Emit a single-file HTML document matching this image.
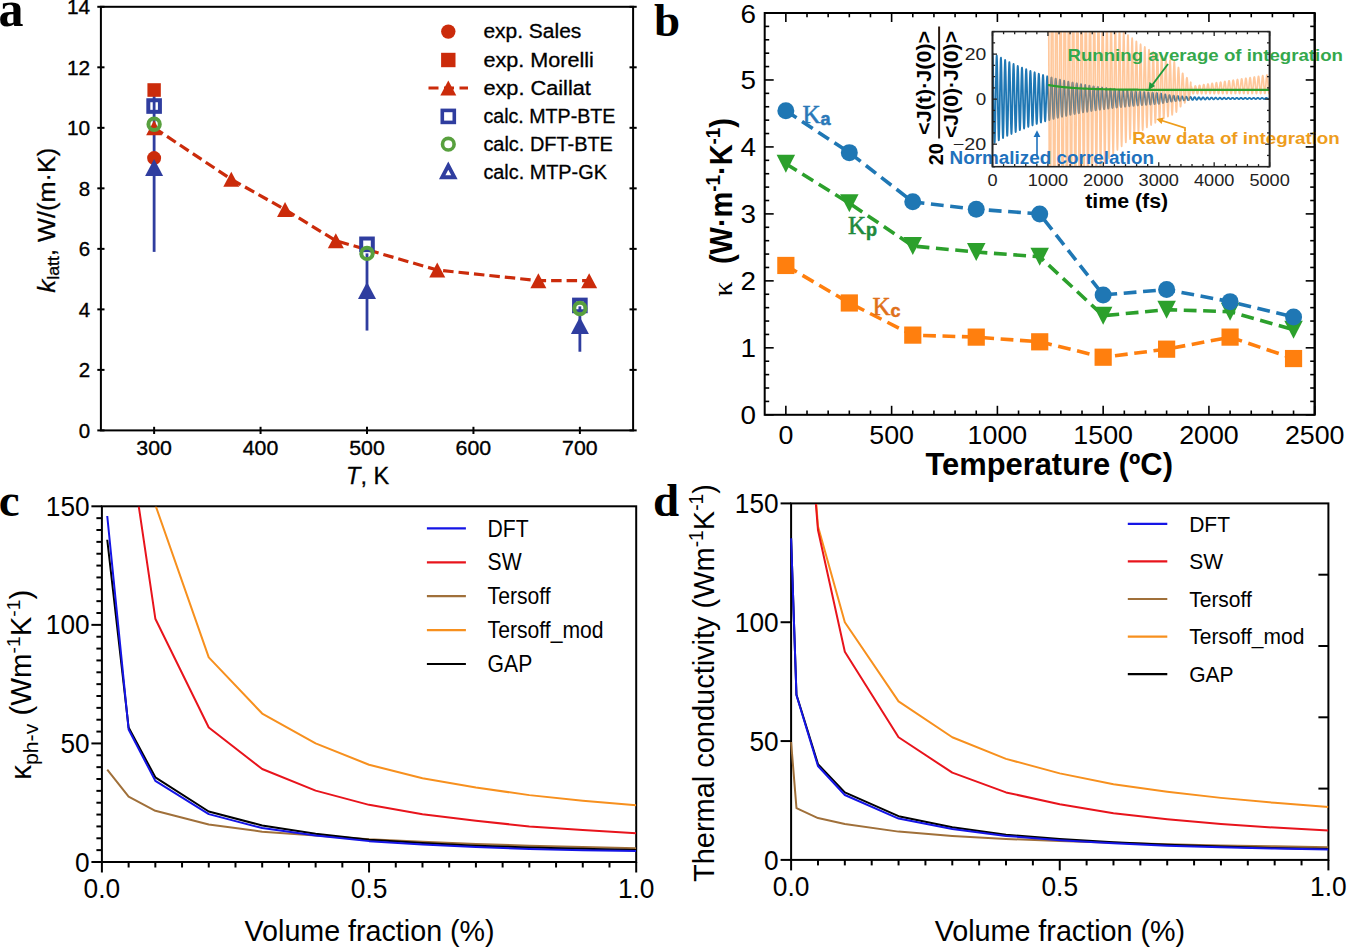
<!DOCTYPE html>
<html><head><meta charset="utf-8"><style>
html,body{margin:0;padding:0;background:#fff;width:1348px;height:949px;overflow:hidden}
svg{display:block}
</style></head><body>
<svg width="1348" height="949" viewBox="0 0 1348 949">
<rect width="1348" height="949" fill="#fff"/>
<rect x="100.9" y="6.8" width="532.2" height="423.59999999999997" fill="none" stroke="#000" stroke-width="2"/>
<line x1="97.30" y1="430.40" x2="104.50" y2="430.40" stroke="#000" stroke-width="2" />
<line x1="629.50" y1="430.40" x2="636.70" y2="430.40" stroke="#000" stroke-width="2" />
<text x="90.20" y="437.80" font-family="Liberation Sans" font-size="20.5" font-weight="normal" font-style="normal" text-anchor="end" fill="#000" textLength="11.4" lengthAdjust="spacingAndGlyphs" stroke="#000" stroke-width="0.35">0</text>
<line x1="97.30" y1="369.89" x2="104.50" y2="369.89" stroke="#000" stroke-width="2" />
<line x1="629.50" y1="369.89" x2="636.70" y2="369.89" stroke="#000" stroke-width="2" />
<text x="90.20" y="377.29" font-family="Liberation Sans" font-size="20.5" font-weight="normal" font-style="normal" text-anchor="end" fill="#000" textLength="11.4" lengthAdjust="spacingAndGlyphs" stroke="#000" stroke-width="0.35">2</text>
<line x1="97.30" y1="309.37" x2="104.50" y2="309.37" stroke="#000" stroke-width="2" />
<line x1="629.50" y1="309.37" x2="636.70" y2="309.37" stroke="#000" stroke-width="2" />
<text x="90.20" y="316.77" font-family="Liberation Sans" font-size="20.5" font-weight="normal" font-style="normal" text-anchor="end" fill="#000" textLength="11.4" lengthAdjust="spacingAndGlyphs" stroke="#000" stroke-width="0.35">4</text>
<line x1="97.30" y1="248.86" x2="104.50" y2="248.86" stroke="#000" stroke-width="2" />
<line x1="629.50" y1="248.86" x2="636.70" y2="248.86" stroke="#000" stroke-width="2" />
<text x="90.20" y="256.26" font-family="Liberation Sans" font-size="20.5" font-weight="normal" font-style="normal" text-anchor="end" fill="#000" textLength="11.4" lengthAdjust="spacingAndGlyphs" stroke="#000" stroke-width="0.35">6</text>
<line x1="97.30" y1="188.34" x2="104.50" y2="188.34" stroke="#000" stroke-width="2" />
<line x1="629.50" y1="188.34" x2="636.70" y2="188.34" stroke="#000" stroke-width="2" />
<text x="90.20" y="195.74" font-family="Liberation Sans" font-size="20.5" font-weight="normal" font-style="normal" text-anchor="end" fill="#000" textLength="11.4" lengthAdjust="spacingAndGlyphs" stroke="#000" stroke-width="0.35">8</text>
<line x1="97.30" y1="127.83" x2="104.50" y2="127.83" stroke="#000" stroke-width="2" />
<line x1="629.50" y1="127.83" x2="636.70" y2="127.83" stroke="#000" stroke-width="2" />
<text x="90.20" y="135.23" font-family="Liberation Sans" font-size="20.5" font-weight="normal" font-style="normal" text-anchor="end" fill="#000" textLength="23.2" lengthAdjust="spacingAndGlyphs" stroke="#000" stroke-width="0.35">10</text>
<line x1="97.30" y1="67.31" x2="104.50" y2="67.31" stroke="#000" stroke-width="2" />
<line x1="629.50" y1="67.31" x2="636.70" y2="67.31" stroke="#000" stroke-width="2" />
<text x="90.20" y="74.71" font-family="Liberation Sans" font-size="20.5" font-weight="normal" font-style="normal" text-anchor="end" fill="#000" textLength="23.2" lengthAdjust="spacingAndGlyphs" stroke="#000" stroke-width="0.35">12</text>
<line x1="97.30" y1="6.80" x2="104.50" y2="6.80" stroke="#000" stroke-width="2" />
<line x1="629.50" y1="6.80" x2="636.70" y2="6.80" stroke="#000" stroke-width="2" />
<text x="90.20" y="14.20" font-family="Liberation Sans" font-size="20.5" font-weight="normal" font-style="normal" text-anchor="end" fill="#000" textLength="23.2" lengthAdjust="spacingAndGlyphs" stroke="#000" stroke-width="0.35">14</text>
<line x1="154.12" y1="426.80" x2="154.12" y2="434.00" stroke="#000" stroke-width="2" />
<text x="154.12" y="455.20" font-family="Liberation Sans" font-size="20.5" font-weight="normal" font-style="normal" text-anchor="middle" fill="#000" textLength="35.6" lengthAdjust="spacingAndGlyphs" stroke="#000" stroke-width="0.35">300</text>
<line x1="260.56" y1="426.80" x2="260.56" y2="434.00" stroke="#000" stroke-width="2" />
<text x="260.56" y="455.20" font-family="Liberation Sans" font-size="20.5" font-weight="normal" font-style="normal" text-anchor="middle" fill="#000" textLength="35.6" lengthAdjust="spacingAndGlyphs" stroke="#000" stroke-width="0.35">400</text>
<line x1="367.00" y1="426.80" x2="367.00" y2="434.00" stroke="#000" stroke-width="2" />
<text x="367.00" y="455.20" font-family="Liberation Sans" font-size="20.5" font-weight="normal" font-style="normal" text-anchor="middle" fill="#000" textLength="35.6" lengthAdjust="spacingAndGlyphs" stroke="#000" stroke-width="0.35">500</text>
<line x1="473.44" y1="426.80" x2="473.44" y2="434.00" stroke="#000" stroke-width="2" />
<text x="473.44" y="455.20" font-family="Liberation Sans" font-size="20.5" font-weight="normal" font-style="normal" text-anchor="middle" fill="#000" textLength="35.6" lengthAdjust="spacingAndGlyphs" stroke="#000" stroke-width="0.35">600</text>
<line x1="579.88" y1="426.80" x2="579.88" y2="434.00" stroke="#000" stroke-width="2" />
<text x="579.88" y="455.20" font-family="Liberation Sans" font-size="20.5" font-weight="normal" font-style="normal" text-anchor="middle" fill="#000" textLength="35.6" lengthAdjust="spacingAndGlyphs" stroke="#000" stroke-width="0.35">700</text>
<text x="367.6" y="484" font-family="Liberation Sans" font-size="23.5" text-anchor="middle" stroke="#000" stroke-width="0.3"><tspan font-style="italic">T</tspan>, K</text>
<text transform="translate(54.5,220.2) rotate(-90)" font-family="Liberation Sans" font-size="23.5" text-anchor="middle" stroke="#000" stroke-width="0.3" textLength="145" lengthAdjust="spacingAndGlyphs"><tspan font-style="italic" font-size="24">k</tspan><tspan font-size="16.5" dy="4.5">latt</tspan><tspan dy="-4.5">, W/(m·K)</tspan></text>
<line x1="154.12" y1="251.88" x2="154.12" y2="88.49" stroke="#2f3d9f" stroke-width="2.8" />
<line x1="367.00" y1="330.55" x2="367.00" y2="253.40" stroke="#2f3d9f" stroke-width="2.8" />
<line x1="579.88" y1="351.73" x2="579.88" y2="306.35" stroke="#2f3d9f" stroke-width="2.8" />
<polyline points="154.12,127.83 231.29,179.27 285.04,209.52 335.81,240.69 437.25,270.04 538.37,280.63 589.14,280.63" fill="none" stroke="#cb2b0b" stroke-width="3.2" stroke-linejoin="round" stroke-dasharray="10.5 5" stroke-linecap="butt"/>
<polygon points="154.12,120.33 146.12,135.33 162.12,135.33" fill="#cb2b0b" stroke="none" stroke-width="0"/>
<polygon points="231.29,171.77 223.29,186.77 239.29,186.77" fill="#cb2b0b" stroke="none" stroke-width="0"/>
<polygon points="285.04,202.02 277.04,217.02 293.04,217.02" fill="#cb2b0b" stroke="none" stroke-width="0"/>
<polygon points="335.81,233.19 327.81,248.19 343.81,248.19" fill="#cb2b0b" stroke="none" stroke-width="0"/>
<polygon points="437.25,262.54 429.25,277.54 445.25,277.54" fill="#cb2b0b" stroke="none" stroke-width="0"/>
<polygon points="538.37,273.13 530.37,288.13 546.37,288.13" fill="#cb2b0b" stroke="none" stroke-width="0"/>
<polygon points="589.14,273.13 581.14,288.13 597.14,288.13" fill="#cb2b0b" stroke="none" stroke-width="0"/>
<circle cx="154.12" cy="158.09" r="7" fill="#cb2b0b"/>
<rect x="147.42" y="83.21" width="13.4" height="13.6" fill="#cb2b0b"/>
<rect x="148.32" y="100.24" width="11.6" height="11.6" fill="none" stroke="#2f3d9f" stroke-width="4"/>
<rect x="361.20" y="238.52" width="11.6" height="11.6" fill="none" stroke="#2f3d9f" stroke-width="4"/>
<rect x="574.08" y="299.64" width="11.6" height="11.6" fill="none" stroke="#2f3d9f" stroke-width="4"/>
<circle cx="154.12" cy="124.20" r="5.7" fill="none" stroke="#58a03e" stroke-width="4"/>
<circle cx="367.00" cy="253.40" r="5.7" fill="none" stroke="#58a03e" stroke-width="4"/>
<circle cx="579.88" cy="308.46" r="5.7" fill="none" stroke="#58a03e" stroke-width="4"/>
<polygon points="154.12,158.97 145.12,175.97 163.12,175.97" fill="#2f3d9f" stroke="none" stroke-width="0"/>
<polygon points="367.00,282.11 358.00,299.11 376.00,299.11" fill="#2f3d9f" stroke="none" stroke-width="0"/>
<polygon points="579.88,316.91 570.88,333.91 588.88,333.91" fill="#2f3d9f" stroke="none" stroke-width="0"/>
<circle cx="448.3" cy="31.6" r="7.2" fill="#cb2b0b"/>
<rect x="441.1" y="52.8" width="14.4" height="14.4" fill="#cb2b0b"/>
<line x1="428.50" y1="88.00" x2="468.00" y2="88.00" stroke="#cb2b0b" stroke-width="3.2" stroke-dasharray="10 5.5"/>
<polygon points="448.30,80.50 440.30,95.50 456.30,95.50" fill="#cb2b0b" stroke="none" stroke-width="0"/>
<rect x="442.3" y="110.4" width="12" height="12" fill="none" stroke="#2f3d9f" stroke-width="3.6"/>
<circle cx="448.3" cy="144.2" r="5.8" fill="none" stroke="#58a03e" stroke-width="3.6"/>
<polygon points="448.30,165.60 442.20,177.20 454.40,177.20" fill="none" stroke="#2f3d9f" stroke-width="3.9"/>
<text x="483.40" y="38.30" font-family="Liberation Sans" font-size="20" font-weight="normal" font-style="normal" text-anchor="start" fill="#000" textLength="97.9" lengthAdjust="spacingAndGlyphs" stroke="#000" stroke-width="0.3">exp. Sales</text>
<text x="483.40" y="66.70" font-family="Liberation Sans" font-size="20" font-weight="normal" font-style="normal" text-anchor="start" fill="#000" textLength="110.5" lengthAdjust="spacingAndGlyphs" stroke="#000" stroke-width="0.3">exp. Morelli</text>
<text x="483.40" y="94.70" font-family="Liberation Sans" font-size="20" font-weight="normal" font-style="normal" text-anchor="start" fill="#000" textLength="107.5" lengthAdjust="spacingAndGlyphs" stroke="#000" stroke-width="0.3">exp. Caillat</text>
<text x="483.40" y="123.10" font-family="Liberation Sans" font-size="20" font-weight="normal" font-style="normal" text-anchor="start" fill="#000" textLength="132" lengthAdjust="spacingAndGlyphs" stroke="#000" stroke-width="0.3">calc. MTP-BTE</text>
<text x="483.40" y="150.90" font-family="Liberation Sans" font-size="20" font-weight="normal" font-style="normal" text-anchor="start" fill="#000" textLength="129.5" lengthAdjust="spacingAndGlyphs" stroke="#000" stroke-width="0.3">calc. DFT-BTE</text>
<text x="483.40" y="178.70" font-family="Liberation Sans" font-size="20" font-weight="normal" font-style="normal" text-anchor="start" fill="#000" textLength="123.5" lengthAdjust="spacingAndGlyphs" stroke="#000" stroke-width="0.3">calc. MTP-GK</text>
<text x="-1.50" y="25.60" font-family="Liberation Serif" font-size="50" font-weight="bold" font-style="normal" text-anchor="start" fill="#000" >a</text>
<rect x="764.7" y="13.0" width="550.0" height="401.8" fill="none" stroke="#000" stroke-width="2"/>
<line x1="764.70" y1="414.80" x2="773.70" y2="414.80" stroke="#000" stroke-width="1.6" />
<line x1="1314.70" y1="414.80" x2="1305.70" y2="414.80" stroke="#000" stroke-width="1.6" />
<line x1="764.70" y1="401.41" x2="769.20" y2="401.41" stroke="#000" stroke-width="1.6" />
<line x1="1314.70" y1="401.41" x2="1310.20" y2="401.41" stroke="#000" stroke-width="1.6" />
<line x1="764.70" y1="388.01" x2="769.20" y2="388.01" stroke="#000" stroke-width="1.6" />
<line x1="1314.70" y1="388.01" x2="1310.20" y2="388.01" stroke="#000" stroke-width="1.6" />
<line x1="764.70" y1="374.62" x2="769.20" y2="374.62" stroke="#000" stroke-width="1.6" />
<line x1="1314.70" y1="374.62" x2="1310.20" y2="374.62" stroke="#000" stroke-width="1.6" />
<line x1="764.70" y1="361.23" x2="769.20" y2="361.23" stroke="#000" stroke-width="1.6" />
<line x1="1314.70" y1="361.23" x2="1310.20" y2="361.23" stroke="#000" stroke-width="1.6" />
<line x1="764.70" y1="347.83" x2="773.70" y2="347.83" stroke="#000" stroke-width="1.6" />
<line x1="1314.70" y1="347.83" x2="1305.70" y2="347.83" stroke="#000" stroke-width="1.6" />
<line x1="764.70" y1="334.44" x2="769.20" y2="334.44" stroke="#000" stroke-width="1.6" />
<line x1="1314.70" y1="334.44" x2="1310.20" y2="334.44" stroke="#000" stroke-width="1.6" />
<line x1="764.70" y1="321.05" x2="769.20" y2="321.05" stroke="#000" stroke-width="1.6" />
<line x1="1314.70" y1="321.05" x2="1310.20" y2="321.05" stroke="#000" stroke-width="1.6" />
<line x1="764.70" y1="307.65" x2="769.20" y2="307.65" stroke="#000" stroke-width="1.6" />
<line x1="1314.70" y1="307.65" x2="1310.20" y2="307.65" stroke="#000" stroke-width="1.6" />
<line x1="764.70" y1="294.26" x2="769.20" y2="294.26" stroke="#000" stroke-width="1.6" />
<line x1="1314.70" y1="294.26" x2="1310.20" y2="294.26" stroke="#000" stroke-width="1.6" />
<line x1="764.70" y1="280.87" x2="773.70" y2="280.87" stroke="#000" stroke-width="1.6" />
<line x1="1314.70" y1="280.87" x2="1305.70" y2="280.87" stroke="#000" stroke-width="1.6" />
<line x1="764.70" y1="267.47" x2="769.20" y2="267.47" stroke="#000" stroke-width="1.6" />
<line x1="1314.70" y1="267.47" x2="1310.20" y2="267.47" stroke="#000" stroke-width="1.6" />
<line x1="764.70" y1="254.08" x2="769.20" y2="254.08" stroke="#000" stroke-width="1.6" />
<line x1="1314.70" y1="254.08" x2="1310.20" y2="254.08" stroke="#000" stroke-width="1.6" />
<line x1="764.70" y1="240.69" x2="769.20" y2="240.69" stroke="#000" stroke-width="1.6" />
<line x1="1314.70" y1="240.69" x2="1310.20" y2="240.69" stroke="#000" stroke-width="1.6" />
<line x1="764.70" y1="227.29" x2="769.20" y2="227.29" stroke="#000" stroke-width="1.6" />
<line x1="1314.70" y1="227.29" x2="1310.20" y2="227.29" stroke="#000" stroke-width="1.6" />
<line x1="764.70" y1="213.90" x2="773.70" y2="213.90" stroke="#000" stroke-width="1.6" />
<line x1="1314.70" y1="213.90" x2="1305.70" y2="213.90" stroke="#000" stroke-width="1.6" />
<line x1="764.70" y1="200.51" x2="769.20" y2="200.51" stroke="#000" stroke-width="1.6" />
<line x1="1314.70" y1="200.51" x2="1310.20" y2="200.51" stroke="#000" stroke-width="1.6" />
<line x1="764.70" y1="187.11" x2="769.20" y2="187.11" stroke="#000" stroke-width="1.6" />
<line x1="1314.70" y1="187.11" x2="1310.20" y2="187.11" stroke="#000" stroke-width="1.6" />
<line x1="764.70" y1="173.72" x2="769.20" y2="173.72" stroke="#000" stroke-width="1.6" />
<line x1="1314.70" y1="173.72" x2="1310.20" y2="173.72" stroke="#000" stroke-width="1.6" />
<line x1="764.70" y1="160.33" x2="769.20" y2="160.33" stroke="#000" stroke-width="1.6" />
<line x1="1314.70" y1="160.33" x2="1310.20" y2="160.33" stroke="#000" stroke-width="1.6" />
<line x1="764.70" y1="146.93" x2="773.70" y2="146.93" stroke="#000" stroke-width="1.6" />
<line x1="1314.70" y1="146.93" x2="1305.70" y2="146.93" stroke="#000" stroke-width="1.6" />
<line x1="764.70" y1="133.54" x2="769.20" y2="133.54" stroke="#000" stroke-width="1.6" />
<line x1="1314.70" y1="133.54" x2="1310.20" y2="133.54" stroke="#000" stroke-width="1.6" />
<line x1="764.70" y1="120.15" x2="769.20" y2="120.15" stroke="#000" stroke-width="1.6" />
<line x1="1314.70" y1="120.15" x2="1310.20" y2="120.15" stroke="#000" stroke-width="1.6" />
<line x1="764.70" y1="106.75" x2="769.20" y2="106.75" stroke="#000" stroke-width="1.6" />
<line x1="1314.70" y1="106.75" x2="1310.20" y2="106.75" stroke="#000" stroke-width="1.6" />
<line x1="764.70" y1="93.36" x2="769.20" y2="93.36" stroke="#000" stroke-width="1.6" />
<line x1="1314.70" y1="93.36" x2="1310.20" y2="93.36" stroke="#000" stroke-width="1.6" />
<line x1="764.70" y1="79.97" x2="773.70" y2="79.97" stroke="#000" stroke-width="1.6" />
<line x1="1314.70" y1="79.97" x2="1305.70" y2="79.97" stroke="#000" stroke-width="1.6" />
<line x1="764.70" y1="66.57" x2="769.20" y2="66.57" stroke="#000" stroke-width="1.6" />
<line x1="1314.70" y1="66.57" x2="1310.20" y2="66.57" stroke="#000" stroke-width="1.6" />
<line x1="764.70" y1="53.18" x2="769.20" y2="53.18" stroke="#000" stroke-width="1.6" />
<line x1="1314.70" y1="53.18" x2="1310.20" y2="53.18" stroke="#000" stroke-width="1.6" />
<line x1="764.70" y1="39.79" x2="769.20" y2="39.79" stroke="#000" stroke-width="1.6" />
<line x1="1314.70" y1="39.79" x2="1310.20" y2="39.79" stroke="#000" stroke-width="1.6" />
<line x1="764.70" y1="26.39" x2="769.20" y2="26.39" stroke="#000" stroke-width="1.6" />
<line x1="1314.70" y1="26.39" x2="1310.20" y2="26.39" stroke="#000" stroke-width="1.6" />
<line x1="764.70" y1="13.00" x2="773.70" y2="13.00" stroke="#000" stroke-width="1.6" />
<line x1="1314.70" y1="13.00" x2="1305.70" y2="13.00" stroke="#000" stroke-width="1.6" />
<line x1="785.85" y1="414.80" x2="785.85" y2="405.80" stroke="#000" stroke-width="1.6" />
<line x1="785.85" y1="13.00" x2="785.85" y2="22.00" stroke="#000" stroke-width="1.6" />
<line x1="807.01" y1="414.80" x2="807.01" y2="410.50" stroke="#000" stroke-width="1.6" />
<line x1="807.01" y1="13.00" x2="807.01" y2="17.30" stroke="#000" stroke-width="1.6" />
<line x1="828.16" y1="414.80" x2="828.16" y2="410.50" stroke="#000" stroke-width="1.6" />
<line x1="828.16" y1="13.00" x2="828.16" y2="17.30" stroke="#000" stroke-width="1.6" />
<line x1="849.32" y1="414.80" x2="849.32" y2="410.50" stroke="#000" stroke-width="1.6" />
<line x1="849.32" y1="13.00" x2="849.32" y2="17.30" stroke="#000" stroke-width="1.6" />
<line x1="870.47" y1="414.80" x2="870.47" y2="410.50" stroke="#000" stroke-width="1.6" />
<line x1="870.47" y1="13.00" x2="870.47" y2="17.30" stroke="#000" stroke-width="1.6" />
<line x1="891.62" y1="414.80" x2="891.62" y2="405.80" stroke="#000" stroke-width="1.6" />
<line x1="891.62" y1="13.00" x2="891.62" y2="22.00" stroke="#000" stroke-width="1.6" />
<line x1="912.78" y1="414.80" x2="912.78" y2="410.50" stroke="#000" stroke-width="1.6" />
<line x1="912.78" y1="13.00" x2="912.78" y2="17.30" stroke="#000" stroke-width="1.6" />
<line x1="933.93" y1="414.80" x2="933.93" y2="410.50" stroke="#000" stroke-width="1.6" />
<line x1="933.93" y1="13.00" x2="933.93" y2="17.30" stroke="#000" stroke-width="1.6" />
<line x1="955.08" y1="414.80" x2="955.08" y2="410.50" stroke="#000" stroke-width="1.6" />
<line x1="955.08" y1="13.00" x2="955.08" y2="17.30" stroke="#000" stroke-width="1.6" />
<line x1="976.24" y1="414.80" x2="976.24" y2="410.50" stroke="#000" stroke-width="1.6" />
<line x1="976.24" y1="13.00" x2="976.24" y2="17.30" stroke="#000" stroke-width="1.6" />
<line x1="997.39" y1="414.80" x2="997.39" y2="405.80" stroke="#000" stroke-width="1.6" />
<line x1="997.39" y1="13.00" x2="997.39" y2="22.00" stroke="#000" stroke-width="1.6" />
<line x1="1018.55" y1="414.80" x2="1018.55" y2="410.50" stroke="#000" stroke-width="1.6" />
<line x1="1018.55" y1="13.00" x2="1018.55" y2="17.30" stroke="#000" stroke-width="1.6" />
<line x1="1039.70" y1="414.80" x2="1039.70" y2="410.50" stroke="#000" stroke-width="1.6" />
<line x1="1039.70" y1="13.00" x2="1039.70" y2="17.30" stroke="#000" stroke-width="1.6" />
<line x1="1060.85" y1="414.80" x2="1060.85" y2="410.50" stroke="#000" stroke-width="1.6" />
<line x1="1060.85" y1="13.00" x2="1060.85" y2="17.30" stroke="#000" stroke-width="1.6" />
<line x1="1082.01" y1="414.80" x2="1082.01" y2="410.50" stroke="#000" stroke-width="1.6" />
<line x1="1082.01" y1="13.00" x2="1082.01" y2="17.30" stroke="#000" stroke-width="1.6" />
<line x1="1103.16" y1="414.80" x2="1103.16" y2="405.80" stroke="#000" stroke-width="1.6" />
<line x1="1103.16" y1="13.00" x2="1103.16" y2="22.00" stroke="#000" stroke-width="1.6" />
<line x1="1124.32" y1="414.80" x2="1124.32" y2="410.50" stroke="#000" stroke-width="1.6" />
<line x1="1124.32" y1="13.00" x2="1124.32" y2="17.30" stroke="#000" stroke-width="1.6" />
<line x1="1145.47" y1="414.80" x2="1145.47" y2="410.50" stroke="#000" stroke-width="1.6" />
<line x1="1145.47" y1="13.00" x2="1145.47" y2="17.30" stroke="#000" stroke-width="1.6" />
<line x1="1166.62" y1="414.80" x2="1166.62" y2="410.50" stroke="#000" stroke-width="1.6" />
<line x1="1166.62" y1="13.00" x2="1166.62" y2="17.30" stroke="#000" stroke-width="1.6" />
<line x1="1187.78" y1="414.80" x2="1187.78" y2="410.50" stroke="#000" stroke-width="1.6" />
<line x1="1187.78" y1="13.00" x2="1187.78" y2="17.30" stroke="#000" stroke-width="1.6" />
<line x1="1208.93" y1="414.80" x2="1208.93" y2="405.80" stroke="#000" stroke-width="1.6" />
<line x1="1208.93" y1="13.00" x2="1208.93" y2="22.00" stroke="#000" stroke-width="1.6" />
<line x1="1230.08" y1="414.80" x2="1230.08" y2="410.50" stroke="#000" stroke-width="1.6" />
<line x1="1230.08" y1="13.00" x2="1230.08" y2="17.30" stroke="#000" stroke-width="1.6" />
<line x1="1251.24" y1="414.80" x2="1251.24" y2="410.50" stroke="#000" stroke-width="1.6" />
<line x1="1251.24" y1="13.00" x2="1251.24" y2="17.30" stroke="#000" stroke-width="1.6" />
<line x1="1272.39" y1="414.80" x2="1272.39" y2="410.50" stroke="#000" stroke-width="1.6" />
<line x1="1272.39" y1="13.00" x2="1272.39" y2="17.30" stroke="#000" stroke-width="1.6" />
<line x1="1293.55" y1="414.80" x2="1293.55" y2="410.50" stroke="#000" stroke-width="1.6" />
<line x1="1293.55" y1="13.00" x2="1293.55" y2="17.30" stroke="#000" stroke-width="1.6" />
<line x1="1314.70" y1="414.80" x2="1314.70" y2="405.80" stroke="#000" stroke-width="1.6" />
<line x1="1314.70" y1="13.00" x2="1314.70" y2="22.00" stroke="#000" stroke-width="1.6" />
<text x="756.00" y="424.30" font-family="Liberation Sans" font-size="26" font-weight="normal" font-style="normal" text-anchor="end" fill="#000" textLength="15.5" lengthAdjust="spacingAndGlyphs" >0</text>
<text x="756.00" y="357.33" font-family="Liberation Sans" font-size="26" font-weight="normal" font-style="normal" text-anchor="end" fill="#000" textLength="15.5" lengthAdjust="spacingAndGlyphs" >1</text>
<text x="756.00" y="290.37" font-family="Liberation Sans" font-size="26" font-weight="normal" font-style="normal" text-anchor="end" fill="#000" textLength="15.5" lengthAdjust="spacingAndGlyphs" >2</text>
<text x="756.00" y="223.40" font-family="Liberation Sans" font-size="26" font-weight="normal" font-style="normal" text-anchor="end" fill="#000" textLength="15.5" lengthAdjust="spacingAndGlyphs" >3</text>
<text x="756.00" y="156.43" font-family="Liberation Sans" font-size="26" font-weight="normal" font-style="normal" text-anchor="end" fill="#000" textLength="15.5" lengthAdjust="spacingAndGlyphs" >4</text>
<text x="756.00" y="89.47" font-family="Liberation Sans" font-size="26" font-weight="normal" font-style="normal" text-anchor="end" fill="#000" textLength="15.5" lengthAdjust="spacingAndGlyphs" >5</text>
<text x="756.00" y="22.50" font-family="Liberation Sans" font-size="26" font-weight="normal" font-style="normal" text-anchor="end" fill="#000" textLength="15.5" lengthAdjust="spacingAndGlyphs" >6</text>
<text x="785.85" y="444.20" font-family="Liberation Sans" font-size="26.5" font-weight="normal" font-style="normal" text-anchor="middle" fill="#000" textLength="14.9" lengthAdjust="spacingAndGlyphs" >0</text>
<text x="891.62" y="444.20" font-family="Liberation Sans" font-size="26.5" font-weight="normal" font-style="normal" text-anchor="middle" fill="#000" textLength="44.7" lengthAdjust="spacingAndGlyphs" >500</text>
<text x="997.39" y="444.20" font-family="Liberation Sans" font-size="26.5" font-weight="normal" font-style="normal" text-anchor="middle" fill="#000" textLength="59.6" lengthAdjust="spacingAndGlyphs" >1000</text>
<text x="1103.16" y="444.20" font-family="Liberation Sans" font-size="26.5" font-weight="normal" font-style="normal" text-anchor="middle" fill="#000" textLength="59.6" lengthAdjust="spacingAndGlyphs" >1500</text>
<text x="1208.93" y="444.20" font-family="Liberation Sans" font-size="26.5" font-weight="normal" font-style="normal" text-anchor="middle" fill="#000" textLength="59.6" lengthAdjust="spacingAndGlyphs" >2000</text>
<text x="1314.70" y="444.20" font-family="Liberation Sans" font-size="26.5" font-weight="normal" font-style="normal" text-anchor="middle" fill="#000" textLength="59.6" lengthAdjust="spacingAndGlyphs" >2500</text>
<text x="1049.20" y="475.00" font-family="Liberation Sans" font-size="31" font-weight="bold" font-style="normal" text-anchor="middle" fill="#000" textLength="247.5" lengthAdjust="spacingAndGlyphs" >Temperature (ºC)</text>
<text transform="translate(732,289) rotate(-90)" font-family="Liberation Serif" font-size="27" text-anchor="middle" textLength="15" lengthAdjust="spacingAndGlyphs">κ</text>
<text transform="translate(731.5,191.1) rotate(-90)" font-family="Liberation Sans" font-weight="bold" font-size="31" text-anchor="middle" textLength="146" lengthAdjust="spacingAndGlyphs">(W·m<tspan font-size="20" dy="-12">-1</tspan><tspan dy="12">·K</tspan><tspan font-size="20" dy="-12">-1</tspan><tspan dy="12">)</tspan></text>
<polyline points="785.85,265.46 849.32,302.97 912.78,335.11 976.24,337.12 1039.70,341.81 1103.16,357.21 1166.62,349.17 1230.08,337.12 1293.55,358.55" fill="none" stroke="#ff7f0e" stroke-width="3.6" stroke-linejoin="round" stroke-dasharray="12.8 6.6"/>
<polyline points="785.85,163.68 849.32,203.19 912.78,246.04 976.24,252.07 1039.70,256.76 1103.16,315.69 1166.62,309.66 1230.08,311.67 1293.55,329.75" fill="none" stroke="#2ca02c" stroke-width="3.6" stroke-linejoin="round" stroke-dasharray="12.8 6.6"/>
<polyline points="785.85,110.77 849.32,152.63 912.78,201.85 976.24,209.21 1039.70,213.90 1103.16,294.93 1166.62,289.57 1230.08,301.63 1293.55,317.03" fill="none" stroke="#1f77b4" stroke-width="3.6" stroke-linejoin="round" stroke-dasharray="12.8 6.6"/>
<rect x="777.25" y="256.86" width="17.2" height="17.2" fill="#ff7f0e"/>
<rect x="840.72" y="294.37" width="17.2" height="17.2" fill="#ff7f0e"/>
<rect x="904.18" y="326.51" width="17.2" height="17.2" fill="#ff7f0e"/>
<rect x="967.64" y="328.52" width="17.2" height="17.2" fill="#ff7f0e"/>
<rect x="1031.10" y="333.21" width="17.2" height="17.2" fill="#ff7f0e"/>
<rect x="1094.56" y="348.61" width="17.2" height="17.2" fill="#ff7f0e"/>
<rect x="1158.02" y="340.57" width="17.2" height="17.2" fill="#ff7f0e"/>
<rect x="1221.48" y="328.52" width="17.2" height="17.2" fill="#ff7f0e"/>
<rect x="1284.95" y="349.95" width="17.2" height="17.2" fill="#ff7f0e"/>
<polygon points="785.85,172.68 776.60,154.68 795.10,154.68" fill="#2ca02c"/>
<polygon points="849.32,212.19 840.07,194.19 858.57,194.19" fill="#2ca02c"/>
<polygon points="912.78,255.04 903.53,237.04 922.03,237.04" fill="#2ca02c"/>
<polygon points="976.24,261.07 966.99,243.07 985.49,243.07" fill="#2ca02c"/>
<polygon points="1039.70,265.76 1030.45,247.76 1048.95,247.76" fill="#2ca02c"/>
<polygon points="1103.16,324.69 1093.91,306.69 1112.41,306.69" fill="#2ca02c"/>
<polygon points="1166.62,318.66 1157.37,300.66 1175.87,300.66" fill="#2ca02c"/>
<polygon points="1230.08,320.67 1220.83,302.67 1239.33,302.67" fill="#2ca02c"/>
<polygon points="1293.55,338.75 1284.30,320.75 1302.80,320.75" fill="#2ca02c"/>
<circle cx="785.85" cy="110.77" r="8.5" fill="#1f77b4"/>
<circle cx="849.32" cy="152.63" r="8.5" fill="#1f77b4"/>
<circle cx="912.78" cy="201.85" r="8.5" fill="#1f77b4"/>
<circle cx="976.24" cy="209.21" r="8.5" fill="#1f77b4"/>
<circle cx="1039.70" cy="213.90" r="8.5" fill="#1f77b4"/>
<circle cx="1103.16" cy="294.93" r="8.5" fill="#1f77b4"/>
<circle cx="1166.62" cy="289.57" r="8.5" fill="#1f77b4"/>
<circle cx="1230.08" cy="301.63" r="8.5" fill="#1f77b4"/>
<circle cx="1293.55" cy="317.03" r="8.5" fill="#1f77b4"/>
<text x="802.5" y="123" font-family="Liberation Serif" font-size="25" fill="#2a78b8" stroke="#2a78b8" stroke-width="0.5">K<tspan font-family="Liberation Sans" font-weight="bold" font-size="18" dy="2">a</tspan></text>
<text x="848" y="234" font-family="Liberation Serif" font-size="25" fill="#1f8a3c" stroke="#1f8a3c" stroke-width="0.5">K<tspan font-family="Liberation Sans" font-weight="bold" font-size="18" dy="2">p</tspan></text>
<text x="872.5" y="315" font-family="Liberation Serif" font-size="25" fill="#e0701a" stroke="#e0701a" stroke-width="0.5">K<tspan font-family="Liberation Sans" font-weight="bold" font-size="18" dy="2">c</tspan></text>
<clipPath id="cpi"><rect x="992.5" y="31.6" width="277.0999999999999" height="135.1"/></clipPath>
<rect x="992.5" y="31.6" width="277.1" height="135.1" fill="#fff"/>
<g clip-path="url(#cpi)">
<polyline points="992.50,52.88 992.64,53.93 992.78,56.87 992.92,61.57 993.05,67.82 993.19,75.35 993.33,83.83 993.47,92.91 993.61,102.19 993.75,111.27 993.89,119.78 994.02,127.36 994.16,133.68 994.30,138.48 994.44,141.56 994.58,142.80 994.72,142.15 994.86,139.65 994.99,135.41 995.13,129.61 995.27,122.52 995.41,114.42 995.55,105.68 995.69,96.67 995.83,87.76 995.96,79.34 996.10,71.77 996.24,65.36 996.38,60.38 996.52,57.03 996.66,55.46 996.80,55.72 996.93,57.80 997.07,61.60 997.21,66.95 997.35,73.62 997.49,81.33 997.63,89.73 997.76,98.47 997.90,107.19 998.04,115.50 998.18,123.06 998.32,129.54 998.46,134.68 998.60,138.27 998.73,140.15 998.87,140.25 999.01,138.58 999.15,135.21 999.29,130.29 999.43,124.03 999.57,116.72 999.70,108.65 999.84,100.18 999.98,91.67 1000.12,83.49 1000.26,75.96 1000.40,69.42 1000.54,64.14 1000.67,60.34 1000.81,58.17 1000.95,57.72 1001.09,59.01 1001.23,61.97 1001.37,66.46 1001.51,72.31 1001.64,79.24 1001.78,86.96 1001.92,95.15 1002.06,103.45 1002.20,111.50 1002.34,118.97 1002.48,125.55 1002.61,130.95 1002.75,134.95 1002.89,137.38 1003.03,138.16 1003.17,137.24 1003.31,134.68 1003.45,130.59 1003.58,125.16 1003.72,118.60 1003.86,111.22 1004.00,103.32 1004.14,95.24 1004.28,87.34 1004.42,79.93 1004.55,73.34 1004.69,67.84 1004.83,63.66 1004.97,60.98 1005.11,59.90 1005.25,60.46 1005.39,62.63 1005.52,66.33 1005.66,71.37 1005.80,77.55 1005.94,84.59 1006.08,92.20 1006.22,100.05 1006.36,107.80 1006.49,115.13 1006.63,121.72 1006.77,127.30 1006.91,131.64 1007.05,134.55 1007.19,135.92 1007.32,135.69 1007.46,133.88 1007.60,130.57 1007.74,125.91 1007.88,120.11 1008.02,113.40 1008.16,106.09 1008.29,98.47 1008.43,90.89 1008.57,83.66 1008.71,77.08 1008.85,71.43 1008.99,66.96 1009.13,63.84 1009.26,62.20 1009.40,62.11 1009.54,63.57 1009.68,66.50 1009.82,70.78 1009.96,76.23 1010.10,82.59 1010.23,89.61 1010.37,96.99 1010.51,104.39 1010.65,111.52 1010.79,118.07 1010.93,123.76 1011.07,128.36 1011.20,131.67 1011.34,133.56 1011.48,133.95 1011.62,132.83 1011.76,130.26 1011.90,126.34 1012.04,121.25 1012.17,115.22 1012.31,108.50 1012.45,101.37 1012.59,94.15 1012.73,87.13 1012.87,80.63 1013.01,74.90 1013.14,70.20 1013.28,66.72 1013.42,64.60 1013.56,63.93 1013.70,64.72 1013.84,66.95 1013.98,70.51 1014.11,75.25 1014.25,80.95 1014.39,87.38 1014.53,94.26 1014.67,101.29 1014.81,108.17 1014.95,114.62 1015.08,120.36 1015.22,125.15 1015.36,128.79 1015.50,131.12 1015.64,132.06 1015.78,131.57 1015.91,129.68 1016.05,126.46 1016.19,122.07 1016.33,116.69 1016.47,110.56 1016.61,103.94 1016.75,97.11 1016.88,90.36 1017.02,83.98 1017.16,78.24 1017.30,73.38 1017.44,69.60 1017.58,67.07 1017.72,65.87 1017.85,66.07 1017.99,67.65 1018.13,70.53 1018.27,74.58 1018.41,79.64 1018.55,85.48 1018.69,91.85 1018.82,98.47 1018.96,105.08 1019.10,111.38 1019.24,117.11 1019.38,122.02 1019.52,125.92 1019.66,128.64 1019.79,130.06 1019.93,130.14 1020.07,128.87 1020.21,126.32 1020.35,122.59 1020.49,117.85 1020.63,112.30 1020.76,106.19 1020.90,99.77 1021.04,93.32 1021.18,87.11 1021.32,81.41 1021.46,76.45 1021.60,72.45 1021.73,69.57 1021.87,67.92 1022.01,67.58 1022.15,68.56 1022.29,70.80 1022.43,74.21 1022.57,78.64 1022.70,83.89 1022.84,89.75 1022.98,95.95 1023.12,102.24 1023.26,108.35 1023.40,114.02 1023.54,119.00 1023.67,123.09 1023.81,126.13 1023.95,127.97 1024.09,128.56 1024.23,127.87 1024.37,125.93 1024.51,122.83 1024.64,118.70 1024.78,113.74 1024.92,108.14 1025.06,102.15 1025.20,96.03 1025.34,90.03 1025.47,84.41 1025.61,79.41 1025.75,75.24 1025.89,72.08 1026.03,70.04 1026.17,69.22 1026.31,69.65 1026.44,71.30 1026.58,74.10 1026.72,77.92 1026.86,82.61 1027.00,87.95 1027.14,93.72 1027.28,99.67 1027.41,105.55 1027.55,111.10 1027.69,116.10 1027.83,120.33 1027.97,123.62 1028.11,125.83 1028.25,126.87 1028.38,126.70 1028.52,125.32 1028.66,122.82 1028.80,119.28 1028.94,114.88 1029.08,109.80 1029.22,104.25 1029.35,98.47 1029.49,92.72 1029.63,87.24 1029.77,82.25 1029.91,77.96 1030.05,74.57 1030.19,72.20 1030.32,70.96 1030.46,70.89 1030.60,72.00 1030.74,74.22 1030.88,77.47 1031.02,81.60 1031.16,86.43 1031.29,91.75 1031.43,97.35 1031.57,102.96 1031.71,108.37 1031.85,113.34 1031.99,117.66 1032.13,121.14 1032.26,123.66 1032.40,125.09 1032.54,125.38 1032.68,124.54 1032.82,122.58 1032.96,119.61 1033.10,115.76 1033.23,111.18 1033.37,106.08 1033.51,100.67 1033.65,95.19 1033.79,89.87 1033.93,84.94 1034.07,80.59 1034.20,77.03 1034.34,74.38 1034.48,72.78 1034.62,72.26 1034.76,72.87 1034.90,74.56 1035.03,77.26 1035.17,80.85 1035.31,85.18 1035.45,90.06 1035.59,95.27 1035.73,100.61 1035.87,105.83 1036.00,110.73 1036.14,115.08 1036.28,118.71 1036.42,121.47 1036.56,123.25 1036.70,123.96 1036.84,123.59 1036.97,122.15 1037.11,119.71 1037.25,116.38 1037.39,112.30 1037.53,107.65 1037.67,102.62 1037.81,97.44 1037.94,92.31 1038.08,87.47 1038.22,83.12 1038.36,79.43 1038.50,76.56 1038.64,74.64 1038.78,73.74 1038.91,73.89 1039.05,75.08 1039.19,77.26 1039.33,80.34 1039.47,84.18 1039.61,88.61 1039.75,93.44 1039.88,98.47 1040.02,103.49 1040.16,108.27 1040.30,112.62 1040.44,116.35 1040.58,119.30 1040.72,121.37 1040.85,122.45 1040.99,122.51 1041.13,121.55 1041.27,119.61 1041.41,116.78 1041.55,113.18 1041.69,108.97 1041.82,104.33 1041.96,99.46 1042.10,94.56 1042.24,89.85 1042.38,85.52 1042.52,81.76 1042.66,78.72 1042.79,76.53 1042.93,75.28 1043.07,75.02 1043.21,75.76 1043.35,77.46 1043.49,80.05 1043.62,83.41 1043.76,87.40 1043.90,91.85 1044.04,96.56 1044.18,101.34 1044.32,105.97 1044.46,110.27 1044.59,114.06 1044.73,117.17 1044.87,119.47 1045.01,120.87 1045.15,121.32 1045.29,120.79 1045.43,119.32 1045.56,116.96 1045.70,113.83 1045.84,110.06 1045.98,105.81 1046.12,101.26 1046.26,96.62 1046.40,92.06 1046.53,87.80 1046.67,84.00 1046.81,80.83 1046.95,78.43 1047.09,76.88 1047.23,76.26 1047.37,76.58 1047.50,77.84 1047.64,79.96 1047.78,82.87 1047.92,86.42 1048.06,90.48 1048.20,94.86 1048.34,99.38 1048.47,103.84 1048.61,108.06 1048.75,111.86 1048.89,115.08 1049.03,117.57 1049.17,119.25 1049.31,120.04 1049.44,119.91 1049.58,118.87 1049.72,116.96 1049.86,114.28 1050.00,110.94 1050.14,107.07 1050.28,102.86 1050.41,98.47 1050.55,94.11 1050.69,89.94 1050.83,86.15 1050.97,82.89 1051.11,80.32 1051.25,78.52 1051.38,77.57 1051.52,77.52 1051.66,78.36 1051.80,80.05 1051.94,82.52 1052.08,85.65 1052.22,89.32 1052.35,93.37 1052.49,97.62 1052.63,101.89 1052.77,105.99 1052.91,109.77 1053.05,113.05 1053.18,115.70 1053.32,117.61 1053.46,118.70 1053.60,118.92 1053.74,118.28 1053.88,116.79 1054.02,114.54 1054.15,111.60 1054.29,108.13 1054.43,104.25 1054.57,100.14 1054.71,95.98 1054.85,91.94 1054.99,88.19 1055.12,84.89 1055.26,82.18 1055.40,80.17 1055.54,78.95 1055.68,78.56 1055.82,79.02 1055.96,80.30 1056.09,82.35 1056.23,85.08 1056.37,88.37 1056.51,92.08 1056.65,96.04 1056.79,100.10 1056.93,104.07 1057.06,107.79 1057.20,111.10 1057.34,113.86 1057.48,115.96 1057.62,117.30 1057.76,117.85 1057.90,117.56 1058.03,116.47 1058.17,114.62 1058.31,112.09 1058.45,108.98 1058.59,105.45 1058.73,101.63 1058.87,97.68 1059.00,93.79 1059.14,90.11 1059.28,86.80 1059.42,84.00 1059.56,81.82 1059.70,80.35 1059.84,79.67 1059.97,79.78 1060.11,80.69 1060.25,82.35 1060.39,84.69 1060.53,87.61 1060.67,90.97 1060.81,94.65 1060.94,98.47 1061.08,102.29 1061.22,105.92 1061.36,109.23 1061.50,112.06 1061.64,114.31 1061.78,115.88 1061.91,116.70 1062.05,116.75 1062.19,116.02 1062.33,114.54 1062.47,112.39 1062.61,109.66 1062.74,106.46 1062.88,102.93 1063.02,99.22 1063.16,95.50 1063.30,91.92 1063.44,88.62 1063.58,85.76 1063.71,83.45 1063.85,81.79 1063.99,80.84 1064.13,80.64 1064.27,81.20 1064.41,82.50 1064.55,84.46 1064.68,87.02 1064.82,90.05 1064.96,93.44 1065.10,97.02 1065.24,100.65 1065.38,104.18 1065.52,107.45 1065.65,110.33 1065.79,112.69 1065.93,114.45 1066.07,115.51 1066.21,115.85 1066.35,115.45 1066.49,114.33 1066.62,112.54 1066.76,110.16 1066.90,107.29 1067.04,104.06 1067.18,100.60 1067.32,97.06 1067.46,93.60 1067.59,90.35 1067.73,87.46 1067.87,85.05 1068.01,83.22 1068.15,82.05 1068.29,81.57 1068.43,81.82 1068.56,82.77 1068.70,84.39 1068.84,86.60 1068.98,89.30 1069.12,92.39 1069.26,95.72 1069.40,99.16 1069.53,102.56 1069.67,105.77 1069.81,108.66 1069.95,111.11 1070.09,113.01 1070.23,114.29 1070.37,114.89 1070.50,114.79 1070.64,113.99 1070.78,112.55 1070.92,110.50 1071.06,107.96 1071.20,105.02 1071.33,101.81 1071.47,98.47 1071.61,95.15 1071.75,91.98 1071.89,89.09 1072.03,86.62 1072.17,84.65 1072.30,83.28 1072.44,82.56 1072.58,82.53 1072.72,83.16 1072.86,84.45 1073.00,86.33 1073.14,88.71 1073.27,91.51 1073.41,94.59 1073.55,97.82 1073.69,101.07 1073.83,104.20 1073.97,107.07 1074.11,109.57 1074.24,111.59 1074.38,113.04 1074.52,113.87 1074.66,114.04 1074.80,113.55 1074.94,112.42 1075.08,110.70 1075.21,108.47 1075.35,105.82 1075.49,102.87 1075.63,99.75 1075.77,96.57 1075.91,93.50 1076.05,90.64 1076.18,88.13 1076.32,86.06 1076.46,84.53 1076.60,83.60 1076.74,83.30 1076.88,83.65 1077.02,84.63 1077.15,86.19 1077.29,88.27 1077.43,90.78 1077.57,93.60 1077.71,96.62 1077.85,99.71 1077.99,102.73 1078.12,105.57 1078.26,108.09 1078.40,110.19 1078.54,111.79 1078.68,112.82 1078.82,113.23 1078.96,113.02 1079.09,112.18 1079.23,110.77 1079.37,108.84 1079.51,106.48 1079.65,103.79 1079.79,100.88 1079.93,97.87 1080.06,94.91 1080.20,92.10 1080.34,89.58 1080.48,87.44 1080.62,85.78 1080.76,84.67 1080.89,84.14 1081.03,84.23 1081.17,84.92 1081.31,86.19 1081.45,87.97 1081.59,90.19 1081.73,92.76 1081.86,95.56 1082.00,98.47 1082.14,101.38 1082.28,104.15 1082.42,106.67 1082.56,108.83 1082.70,110.55 1082.83,111.74 1082.97,112.37 1083.11,112.40 1083.25,111.85 1083.39,110.72 1083.53,109.08 1083.67,107.00 1083.80,104.56 1083.94,101.87 1084.08,99.04 1084.22,96.21 1084.36,93.47 1084.50,90.96 1084.64,88.78 1084.77,87.02 1084.91,85.75 1085.05,85.03 1085.19,84.88 1085.33,85.31 1085.47,86.29 1085.61,87.79 1085.74,89.74 1085.88,92.05 1086.02,94.63 1086.16,97.36 1086.30,100.13 1086.44,102.82 1086.58,105.32 1086.71,107.51 1086.85,109.32 1086.99,110.65 1087.13,111.47 1087.27,111.73 1087.41,111.42 1087.55,110.57 1087.68,109.20 1087.82,107.39 1087.96,105.20 1088.10,102.73 1088.24,100.09 1088.38,97.40 1088.52,94.75 1088.65,92.28 1088.79,90.08 1088.93,88.24 1089.07,86.84 1089.21,85.94 1089.35,85.58 1089.48,85.77 1089.62,86.50 1089.76,87.73 1089.90,89.41 1090.04,91.48 1090.18,93.83 1090.32,96.38 1090.45,99.00 1090.59,101.59 1090.73,104.04 1090.87,106.25 1091.01,108.11 1091.15,109.57 1091.29,110.54 1091.42,111.00 1091.56,110.92 1091.70,110.32 1091.84,109.21 1091.98,107.65 1092.12,105.71 1092.26,103.47 1092.39,101.02 1092.53,98.47 1092.67,95.94 1092.81,93.52 1092.95,91.31 1093.09,89.42 1093.23,87.92 1093.36,86.88 1093.50,86.33 1093.64,86.30 1093.78,86.79 1093.92,87.77 1094.06,89.20 1094.20,91.02 1094.33,93.16 1094.47,95.51 1094.61,97.98 1094.75,100.46 1094.89,102.85 1095.03,105.04 1095.17,106.95 1095.30,108.49 1095.44,109.60 1095.58,110.23 1095.72,110.36 1095.86,109.99 1096.00,109.12 1096.14,107.81 1096.27,106.11 1096.41,104.09 1096.55,101.83 1096.69,99.44 1096.83,97.02 1096.97,94.67 1097.11,92.49 1097.24,90.57 1097.38,89.00 1097.52,87.83 1097.66,87.12 1097.80,86.89 1097.94,87.16 1098.08,87.90 1098.21,89.09 1098.35,90.68 1098.49,92.60 1098.63,94.75 1098.77,97.06 1098.91,99.42 1099.04,101.73 1099.18,103.89 1099.32,105.82 1099.46,107.43 1099.60,108.65 1099.74,109.43 1099.88,109.75 1100.01,109.59 1100.15,108.95 1100.29,107.87 1100.43,106.40 1100.57,104.59 1100.71,102.53 1100.85,100.31 1100.98,98.01 1101.12,95.75 1101.26,93.60 1101.40,91.68 1101.54,90.04 1101.68,88.77 1101.82,87.92 1101.95,87.52 1102.09,87.59 1102.23,88.12 1102.37,89.08 1102.51,90.45 1102.65,92.14 1102.79,94.11 1102.92,96.25 1103.06,98.47 1103.20,100.69 1103.34,102.81 1103.48,104.74 1103.62,106.39 1103.76,107.70 1103.89,108.62 1104.03,109.10 1104.17,109.12 1104.31,108.70 1104.45,107.84 1104.59,106.59 1104.73,104.99 1104.86,103.13 1105.00,101.07 1105.14,98.91 1105.28,96.74 1105.42,94.65 1105.56,92.73 1105.70,91.06 1105.83,89.71 1105.97,88.74 1106.11,88.19 1106.25,88.07 1106.39,88.40 1106.53,89.16 1106.67,90.30 1106.80,91.79 1106.94,93.56 1107.08,95.54 1107.22,97.63 1107.36,99.74 1107.50,101.80 1107.64,103.71 1107.77,105.39 1107.91,106.77 1108.05,107.79 1108.19,108.41 1108.33,108.61 1108.47,108.38 1108.60,107.73 1108.74,106.68 1108.88,105.29 1109.02,103.62 1109.16,101.73 1109.30,99.71 1109.44,97.65 1109.57,95.63 1109.71,93.73 1109.85,92.05 1109.99,90.64 1110.13,89.57 1110.27,88.88 1110.41,88.61 1110.54,88.75 1110.68,89.31 1110.82,90.25 1110.96,91.54 1111.10,93.12 1111.24,94.92 1111.38,96.87 1111.51,98.88 1111.65,100.86 1111.79,102.74 1111.93,104.43 1112.07,105.85 1112.21,106.97 1112.35,107.71 1112.48,108.06 1112.62,108.01 1112.76,107.54 1112.90,106.70 1113.04,105.50 1113.18,104.02 1113.32,102.30 1113.45,100.43 1113.59,98.47 1113.73,96.53 1113.87,94.68 1114.01,92.99 1114.15,91.54 1114.29,90.39 1114.42,89.59 1114.56,89.17 1114.70,89.15 1114.84,89.52 1114.98,90.27 1115.12,91.37 1115.26,92.77 1115.39,94.40 1115.53,96.20 1115.67,98.09 1115.81,99.99 1115.95,101.82 1116.09,103.50 1116.23,104.97 1116.36,106.15 1116.50,107.00 1116.64,107.48 1116.78,107.58 1116.92,107.30 1117.06,106.64 1117.19,105.63 1117.33,104.33 1117.47,102.78 1117.61,101.05 1117.75,99.22 1117.89,97.36 1118.03,95.56 1118.16,93.89 1118.30,92.42 1118.44,91.21 1118.58,90.31 1118.72,89.77 1118.86,89.59 1119.00,89.80 1119.13,90.37 1119.27,91.28 1119.41,92.50 1119.55,93.97 1119.69,95.62 1119.83,97.39 1119.97,99.20 1120.10,100.97 1120.24,102.63 1120.38,104.11 1120.52,105.34 1120.66,106.28 1120.80,106.88 1120.94,107.12 1121.07,107.00 1121.21,106.51 1121.35,105.68 1121.49,104.55 1121.63,103.17 1121.77,101.59 1121.91,99.88 1122.04,98.12 1122.18,96.38 1122.32,94.74 1122.46,93.26 1122.60,92.01 1122.74,91.03 1122.88,90.38 1123.01,90.07 1123.15,90.12 1123.29,90.53 1123.43,91.27 1123.57,92.31 1123.71,93.62 1123.85,95.12 1123.98,96.76 1124.12,98.47 1124.26,100.18 1124.40,101.80 1124.54,103.28 1124.68,104.55 1124.82,105.56 1124.95,106.26 1125.09,106.63 1125.23,106.65 1125.37,106.32 1125.51,105.66 1125.65,104.70 1125.79,103.48 1125.92,102.05 1126.06,100.47 1126.20,98.81 1126.34,97.14 1126.48,95.54 1126.62,94.06 1126.75,92.78 1126.89,91.75 1127.03,91.00 1127.17,90.58 1127.31,90.49 1127.45,90.74 1127.59,91.32 1127.72,92.20 1127.86,93.34 1128.00,94.70 1128.14,96.22 1128.28,97.82 1128.42,99.45 1128.56,101.03 1128.69,102.50 1128.83,103.79 1128.97,104.85 1129.11,105.63 1129.25,106.11 1129.39,106.26 1129.53,106.09 1129.66,105.58 1129.80,104.78 1129.94,103.71 1130.08,102.43 1130.22,100.98 1130.36,99.43 1130.50,97.84 1130.63,96.29 1130.77,94.83 1130.91,93.53 1131.05,92.45 1131.19,91.63 1131.33,91.10 1131.47,90.89 1131.60,91.00 1131.74,91.43 1131.88,92.15 1132.02,93.14 1132.16,94.36 1132.30,95.74 1132.44,97.24 1132.57,98.78 1132.71,100.31 1132.85,101.75 1132.99,103.05 1133.13,104.15 1133.27,105.00 1133.41,105.58 1133.54,105.85 1133.68,105.80 1133.82,105.45 1133.96,104.80 1134.10,103.88 1134.24,102.74 1134.38,101.42 1134.51,99.97 1134.65,98.47 1134.79,96.98 1134.93,95.55 1135.07,94.26 1135.21,93.14 1135.35,92.26 1135.48,91.64 1135.62,91.32 1135.76,91.30 1135.90,91.59 1136.04,92.16 1136.18,93.01 1136.31,94.08 1136.45,95.34 1136.59,96.73 1136.73,98.18 1136.87,99.64 1137.01,101.05 1137.15,102.35 1137.28,103.47 1137.42,104.38 1137.56,105.03 1137.70,105.41 1137.84,105.49 1137.98,105.27 1138.12,104.76 1138.25,103.98 1138.39,102.98 1138.53,101.79 1138.67,100.46 1138.81,99.05 1138.95,97.62 1139.09,96.23 1139.22,94.94 1139.36,93.81 1139.50,92.88 1139.64,92.19 1139.78,91.77 1139.92,91.63 1140.06,91.79 1140.19,92.23 1140.33,92.94 1140.47,93.87 1140.61,95.00 1140.75,96.28 1140.89,97.64 1141.03,99.03 1141.16,100.40 1141.30,101.68 1141.44,102.81 1141.58,103.76 1141.72,104.49 1141.86,104.95 1142.00,105.14 1142.13,105.04 1142.27,104.67 1142.41,104.03 1142.55,103.16 1142.69,102.09 1142.83,100.87 1142.97,99.56 1143.10,98.20 1143.24,96.86 1143.38,95.59 1143.52,94.45 1143.66,93.49 1143.80,92.74 1143.94,92.23 1144.07,92.00 1144.21,92.03 1144.35,92.35 1144.49,92.92 1144.63,93.72 1144.77,94.73 1144.90,95.89 1145.04,97.16 1145.18,98.47 1145.32,99.79 1145.46,101.04 1145.60,102.18 1145.74,103.16 1145.87,103.94 1146.01,104.48 1146.15,104.76 1146.29,104.78 1146.43,104.53 1146.57,104.02 1146.71,103.28 1146.84,102.34 1146.98,101.23 1147.12,100.01 1147.26,98.73 1147.40,97.45 1147.54,96.21 1147.68,95.07 1147.81,94.08 1147.95,93.28 1148.09,92.71 1148.23,92.38 1148.37,92.31 1148.51,92.50 1148.65,92.95 1148.78,93.63 1148.92,94.51 1149.06,95.56 1149.20,96.73 1149.34,97.97 1149.48,99.23 1149.62,100.45 1149.75,101.58 1149.89,102.58 1150.03,103.40 1150.17,104.00 1150.31,104.37 1150.45,104.49 1150.59,104.35 1150.72,103.97 1150.86,103.35 1151.00,102.52 1151.14,101.53 1151.28,100.41 1151.42,99.21 1151.56,97.98 1151.69,96.78 1151.83,95.66 1151.97,94.66 1152.11,93.82 1152.25,93.19 1152.39,92.78 1152.53,92.61 1152.66,92.70 1152.80,93.03 1152.94,93.59 1153.08,94.35 1153.22,95.29 1153.36,96.36 1153.50,97.52 1153.63,98.71 1153.77,99.89 1153.91,101.01 1154.05,102.01 1154.19,102.86 1154.33,103.52 1154.46,103.97 1154.60,104.18 1154.74,104.14 1154.88,103.87 1155.02,103.37 1155.16,102.66 1155.30,101.77 1155.43,100.75 1155.57,99.64 1155.71,98.47 1155.85,97.32 1155.99,96.21 1156.13,95.21 1156.27,94.35 1156.40,93.66 1156.54,93.19 1156.68,92.94 1156.82,92.92 1156.96,93.14 1157.10,93.59 1157.24,94.24 1157.37,95.08 1157.51,96.05 1157.65,97.12 1157.79,98.25 1157.93,99.38 1158.07,100.47 1158.21,101.47 1158.34,102.34 1158.48,103.05 1158.62,103.55 1158.76,103.84 1158.90,103.88 1159.04,103.69 1159.18,103.28 1159.31,102.67 1159.45,101.89 1159.59,100.97 1159.73,99.96 1159.87,98.90 1160.01,97.84 1160.15,96.81 1160.28,95.87 1160.42,95.05 1160.56,94.38 1160.70,93.90 1160.84,93.61 1160.98,93.54 1161.12,93.67 1161.25,94.01 1161.39,94.53 1161.53,95.21 1161.67,96.02 1161.81,96.93 1161.95,97.89 1162.09,98.86 1162.22,99.81 1162.36,100.69 1162.50,101.46 1162.64,102.10 1162.78,102.57 1162.92,102.87 1163.06,102.98 1163.19,102.90 1163.33,102.63 1163.47,102.18 1163.61,101.59 1163.75,100.87 1163.89,100.06 1164.02,99.19 1164.16,98.30 1164.30,97.43 1164.44,96.61 1164.58,95.88 1164.72,95.27 1164.86,94.80 1164.99,94.50 1165.13,94.36 1165.27,94.41 1165.41,94.62 1165.55,94.99 1165.69,95.51 1165.83,96.15 1165.96,96.88 1166.10,97.66 1166.24,98.47 1166.38,99.28 1166.52,100.04 1166.66,100.72 1166.80,101.30 1166.93,101.76 1167.07,102.07 1167.21,102.22 1167.35,102.22 1167.49,102.05 1167.63,101.74 1167.77,101.29 1167.90,100.73 1168.04,100.08 1168.18,99.36 1168.32,98.62 1168.46,97.88 1168.60,97.18 1168.74,96.54 1168.87,95.98 1169.01,95.54 1169.15,95.23 1169.29,95.06 1169.43,95.04 1169.57,95.16 1169.71,95.42 1169.84,95.80 1169.98,96.30 1170.12,96.88 1170.26,97.53 1170.40,98.20 1170.54,98.88 1170.68,99.54 1170.81,100.14 1170.95,100.66 1171.09,101.09 1171.23,101.40 1171.37,101.59 1171.51,101.64 1171.65,101.55 1171.78,101.34 1171.92,101.00 1172.06,100.57 1172.20,100.05 1172.34,99.47 1172.48,98.85 1172.62,98.22 1172.75,97.62 1172.89,97.05 1173.03,96.55 1173.17,96.14 1173.31,95.83 1173.45,95.64 1173.58,95.57 1173.72,95.62 1173.86,95.80 1174.00,96.08 1174.14,96.46 1174.28,96.93 1174.42,97.45 1174.55,98.01 1174.69,98.59 1174.83,99.15 1174.97,99.68 1175.11,100.16 1175.25,100.55 1175.39,100.86 1175.52,101.06 1175.66,101.14 1175.80,101.12 1175.94,100.98 1176.08,100.74 1176.22,100.40 1176.36,99.99 1176.49,99.52 1176.63,99.00 1176.77,98.47 1176.91,97.95 1177.05,97.45 1177.19,97.01 1177.33,96.63 1177.46,96.33 1177.60,96.12 1177.74,96.02 1177.88,96.02 1178.02,96.13 1178.16,96.33 1178.30,96.63 1178.43,97.00 1178.57,97.42 1178.71,97.89 1178.85,98.38 1178.99,98.86 1179.13,99.33 1179.27,99.75 1179.40,100.12 1179.54,100.41 1179.68,100.61 1179.82,100.73 1179.96,100.75 1180.10,100.67 1180.24,100.50 1180.37,100.24 1180.51,99.91 1180.65,99.53 1180.79,99.10 1180.93,98.66 1181.07,98.20 1181.21,97.77 1181.34,97.37 1181.48,97.02 1181.62,96.73 1181.76,96.53 1181.90,96.40 1182.04,96.37 1182.17,96.42 1182.31,96.56 1182.45,96.79 1182.59,97.08 1182.73,97.42 1182.87,97.81 1183.01,98.22 1183.14,98.64 1183.28,99.05 1183.42,99.43 1183.56,99.76 1183.70,100.04 1183.84,100.25 1183.98,100.38 1184.11,100.43 1184.25,100.39 1184.39,100.28 1184.53,100.09 1184.67,99.83 1184.81,99.52 1184.95,99.17 1185.08,98.79 1185.22,98.40 1185.36,98.01 1185.50,97.66 1185.64,97.34 1185.78,97.07 1185.92,96.86 1186.05,96.72 1186.19,96.66 1186.33,96.68 1186.47,96.77 1186.61,96.93 1186.75,97.16 1186.89,97.44 1187.02,97.76 1187.16,98.11 1187.30,98.47 1187.44,98.83 1187.58,99.17 1187.72,99.48 1187.86,99.74 1187.99,99.95 1188.13,100.09 1188.27,100.16 1188.41,100.16 1188.55,100.09 1188.69,99.95 1188.83,99.75 1188.96,99.49 1189.10,99.20 1189.24,98.88 1189.38,98.54 1189.52,98.21 1189.66,97.88 1189.80,97.59 1189.93,97.34 1190.07,97.13 1190.21,96.99 1190.35,96.91 1190.49,96.90 1190.63,96.95 1190.77,97.07 1190.90,97.24 1191.04,97.47 1191.18,97.74 1191.32,98.04 1191.46,98.35 1191.60,98.66 1191.73,98.97 1191.87,99.25 1192.01,99.49 1192.15,99.69 1192.29,99.84 1192.43,99.93 1192.57,99.95 1192.70,99.92 1192.84,99.82 1192.98,99.66 1193.12,99.46 1193.26,99.22 1193.40,98.94 1193.54,98.65 1193.67,98.36 1193.81,98.07 1193.95,97.80 1194.09,97.56 1194.23,97.36 1194.37,97.22 1194.51,97.12 1194.64,97.09 1194.78,97.11 1194.92,97.19 1195.06,97.32 1195.20,97.51 1195.34,97.73 1195.48,97.98 1195.61,98.25 1195.75,98.53 1195.89,98.80 1196.03,99.06 1196.17,99.29 1196.31,99.49 1196.45,99.64 1196.58,99.73 1196.72,99.78 1196.86,99.77 1197.00,99.70 1197.14,99.59 1197.28,99.42 1197.42,99.22 1197.55,98.99 1197.69,98.74 1197.83,98.47 1197.97,98.21 1198.11,97.97 1198.25,97.75 1198.39,97.55 1198.52,97.40 1198.66,97.30 1198.80,97.25 1198.94,97.25 1199.08,97.30 1199.22,97.40 1199.36,97.54 1199.49,97.73 1199.63,97.94 1199.77,98.18 1199.91,98.42 1200.05,98.67 1200.19,98.91 1200.32,99.12 1200.46,99.31 1200.60,99.46 1200.74,99.57 1200.88,99.63 1201.02,99.64 1201.16,99.60 1201.29,99.52 1201.43,99.39 1201.57,99.22 1201.71,99.02 1201.85,98.80 1201.99,98.57 1202.13,98.33 1202.26,98.11 1202.40,97.90 1202.54,97.71 1202.68,97.56 1202.82,97.45 1202.96,97.39 1203.10,97.37 1203.23,97.39 1203.37,97.47 1203.51,97.58 1203.65,97.73 1203.79,97.92 1203.93,98.12 1204.07,98.34 1204.20,98.56 1204.34,98.78 1204.48,98.98 1204.62,99.16 1204.76,99.31 1204.90,99.43 1205.04,99.50 1205.17,99.53 1205.31,99.51 1205.45,99.45 1205.59,99.35 1205.73,99.21 1205.87,99.04 1206.01,98.85 1206.14,98.64 1206.28,98.43 1206.42,98.22 1206.56,98.03 1206.70,97.85 1206.84,97.70 1206.98,97.58 1207.11,97.51 1207.25,97.47 1207.39,97.48 1207.53,97.53 1207.67,97.62 1207.81,97.74 1207.95,97.90 1208.08,98.08 1208.22,98.27 1208.36,98.47 1208.50,98.68 1208.64,98.87 1208.78,99.04 1208.92,99.19 1209.05,99.31 1209.19,99.39 1209.33,99.43 1209.47,99.43 1209.61,99.39 1209.75,99.31 1209.88,99.20 1210.02,99.06 1210.16,98.89 1210.30,98.71 1210.44,98.51 1210.58,98.32 1210.72,98.13 1210.85,97.96 1210.99,97.82 1211.13,97.70 1211.27,97.61 1211.41,97.56 1211.55,97.55 1211.69,97.58 1211.82,97.65 1211.96,97.75 1212.10,97.89 1212.24,98.04 1212.38,98.22 1212.52,98.40 1212.66,98.59 1212.79,98.77 1212.93,98.93 1213.07,99.08 1213.21,99.20 1213.35,99.29 1213.49,99.34 1213.63,99.36 1213.76,99.34 1213.90,99.28 1214.04,99.19 1214.18,99.07 1214.32,98.92 1214.46,98.76 1214.60,98.58 1214.73,98.40 1214.87,98.23 1215.01,98.06 1215.15,97.92 1215.29,97.80 1215.43,97.70 1215.57,97.64 1215.70,97.62 1215.84,97.63 1215.98,97.68 1216.12,97.76 1216.26,97.88 1216.40,98.01 1216.54,98.17 1216.67,98.34 1216.81,98.51 1216.95,98.68 1217.09,98.84 1217.23,98.99 1217.37,99.11 1217.51,99.20 1217.64,99.27 1217.78,99.30 1217.92,99.29 1218.06,99.25 1218.20,99.18 1218.34,99.08 1218.48,98.95 1218.61,98.80 1218.75,98.64 1218.89,98.47 1219.03,98.31 1219.17,98.15 1219.31,98.01 1219.44,97.88 1219.58,97.78 1219.72,97.72 1219.86,97.68 1220.00,97.68 1220.14,97.71 1220.28,97.77 1220.41,97.87 1220.55,97.99 1220.69,98.13 1220.83,98.28 1220.97,98.44 1221.11,98.60 1221.25,98.76 1221.38,98.90 1221.52,99.03 1221.66,99.13 1221.80,99.20 1221.94,99.24 1222.08,99.25 1222.22,99.23 1222.35,99.17 1222.49,99.08 1222.63,98.97 1222.77,98.84 1222.91,98.69 1223.05,98.54 1223.19,98.38 1223.32,98.23 1223.46,98.08 1223.60,97.96 1223.74,97.86 1223.88,97.78 1224.02,97.73 1224.16,97.72 1224.29,97.74 1224.43,97.79 1224.57,97.86 1224.71,97.97 1224.85,98.09 1224.99,98.23 1225.13,98.38 1225.26,98.54 1225.40,98.69 1225.54,98.83 1225.68,98.95 1225.82,99.06 1225.96,99.14 1226.10,99.19 1226.23,99.21 1226.37,99.20 1226.51,99.16 1226.65,99.09 1226.79,98.99 1226.93,98.87 1227.07,98.74 1227.20,98.59 1227.34,98.44 1227.48,98.30 1227.62,98.16 1227.76,98.03 1227.90,97.92 1228.03,97.84 1228.17,97.78 1228.31,97.76 1228.45,97.76 1228.59,97.80 1228.73,97.86 1228.87,97.95 1229.00,98.06 1229.14,98.19 1229.28,98.33 1229.42,98.47 1229.56,98.62 1229.70,98.76 1229.84,98.89 1229.97,98.99 1230.11,99.08 1230.25,99.14 1230.39,99.17 1230.53,99.18 1230.67,99.15 1230.81,99.09 1230.94,99.01 1231.08,98.90 1231.22,98.78 1231.36,98.65 1231.50,98.50 1231.64,98.36 1231.78,98.22 1231.91,98.09 1232.05,97.98 1232.19,97.90 1232.33,97.83 1232.47,97.79 1232.61,97.79 1232.75,97.81 1232.88,97.86 1233.02,97.93 1233.16,98.03 1233.30,98.15 1233.44,98.28 1233.58,98.42 1233.72,98.56 1233.85,98.70 1233.99,98.82 1234.13,98.94 1234.27,99.03 1234.41,99.10 1234.55,99.14 1234.69,99.15 1234.82,99.14 1234.96,99.09 1235.10,99.02 1235.24,98.93 1235.38,98.82 1235.52,98.69 1235.66,98.56 1235.79,98.42 1235.93,98.28 1236.07,98.16 1236.21,98.04 1236.35,97.95 1236.49,97.87 1236.63,97.83 1236.76,97.81 1236.90,97.82 1237.04,97.86 1237.18,97.92 1237.32,98.01 1237.46,98.11 1237.59,98.23 1237.73,98.37 1237.87,98.50 1238.01,98.64 1238.15,98.76 1238.29,98.88 1238.43,98.98 1238.56,99.05 1238.70,99.10 1238.84,99.13 1238.98,99.12 1239.12,99.09 1239.26,99.04 1239.40,98.96 1239.53,98.85 1239.67,98.74 1239.81,98.61 1239.95,98.47 1240.09,98.34 1240.23,98.21 1240.37,98.10 1240.50,98.00 1240.64,97.92 1240.78,97.86 1240.92,97.83 1241.06,97.83 1241.20,97.86 1241.34,97.91 1241.47,97.98 1241.61,98.08 1241.75,98.19 1241.89,98.32 1242.03,98.45 1242.17,98.58 1242.31,98.71 1242.44,98.82 1242.58,98.93 1242.72,99.01 1242.86,99.07 1243.00,99.10 1243.14,99.11 1243.28,99.09 1243.41,99.05 1243.55,98.98 1243.69,98.89 1243.83,98.78 1243.97,98.66 1244.11,98.53 1244.25,98.40 1244.38,98.27 1244.52,98.15 1244.66,98.05 1244.80,97.96 1244.94,97.90 1245.08,97.86 1245.22,97.84 1245.35,97.86 1245.49,97.90 1245.63,97.96 1245.77,98.05 1245.91,98.15 1246.05,98.27 1246.19,98.40 1246.32,98.53 1246.46,98.65 1246.60,98.77 1246.74,98.88 1246.88,98.97 1247.02,99.04 1247.15,99.08 1247.29,99.10 1247.43,99.09 1247.57,99.06 1247.71,99.00 1247.85,98.91 1247.99,98.81 1248.12,98.70 1248.26,98.58 1248.40,98.45 1248.54,98.32 1248.68,98.20 1248.82,98.09 1248.96,98.00 1249.09,97.93 1249.23,97.88 1249.37,97.86 1249.51,97.86 1249.65,97.89 1249.79,97.94 1249.93,98.02 1250.06,98.12 1250.20,98.23 1250.34,98.35 1250.48,98.47 1250.62,98.60 1250.76,98.72 1250.90,98.83 1251.03,98.93 1251.17,99.00 1251.31,99.05 1251.45,99.08 1251.59,99.08 1251.73,99.06 1251.87,99.01 1252.00,98.94 1252.14,98.85 1252.28,98.74 1252.42,98.62 1252.56,98.50 1252.70,98.37 1252.84,98.25 1252.97,98.14 1253.11,98.04 1253.25,97.97 1253.39,97.91 1253.53,97.87 1253.67,97.87 1253.81,97.89 1253.94,97.93 1254.08,98.00 1254.22,98.08 1254.36,98.19 1254.50,98.30 1254.64,98.42 1254.78,98.55 1254.91,98.67 1255.05,98.78 1255.19,98.88 1255.33,98.97 1255.47,99.03 1255.61,99.07 1255.74,99.08 1255.88,99.06 1256.02,99.03 1256.16,98.96 1256.30,98.88 1256.44,98.78 1256.58,98.67 1256.71,98.55 1256.85,98.42 1256.99,98.30 1257.13,98.19 1257.27,98.09 1257.41,98.00 1257.55,97.94 1257.68,97.89 1257.82,97.88 1257.96,97.88 1258.10,97.92 1258.24,97.97 1258.38,98.05 1258.52,98.15 1258.65,98.26 1258.79,98.38 1258.93,98.50 1259.07,98.62 1259.21,98.74 1259.35,98.84 1259.49,98.93 1259.62,99.00 1259.76,99.05 1259.90,99.07 1260.04,99.07 1260.18,99.04 1260.32,98.99 1260.46,98.91 1260.59,98.82 1260.73,98.71 1260.87,98.60 1261.01,98.47 1261.15,98.35 1261.29,98.24 1261.43,98.13 1261.56,98.04 1261.70,97.97 1261.84,97.91 1261.98,97.89 1262.12,97.88 1262.26,97.91 1262.40,97.95 1262.53,98.02 1262.67,98.11 1262.81,98.21 1262.95,98.33 1263.09,98.45 1263.23,98.57 1263.37,98.69 1263.50,98.80 1263.64,98.89 1263.78,98.97 1263.92,99.02 1264.06,99.06 1264.20,99.06 1264.34,99.05 1264.47,99.00 1264.61,98.94 1264.75,98.86 1264.89,98.75 1265.03,98.64 1265.17,98.52 1265.30,98.40 1265.44,98.28 1265.58,98.17 1265.72,98.08 1265.86,98.00 1266.00,97.94 1266.14,97.90 1266.27,97.89 1266.41,97.90 1266.55,97.94 1266.69,98.00 1266.83,98.08 1266.97,98.17 1267.11,98.28 1267.24,98.40 1267.38,98.52 1267.52,98.64 1267.66,98.75 1267.80,98.85 1267.94,98.94 1268.08,99.00 1268.21,99.04 1268.35,99.06 1268.49,99.05 1268.63,99.02 1268.77,98.96 1268.91,98.89 1269.05,98.79 1269.18,98.69 1269.32,98.57 1269.46,98.45 1269.60,98.33" fill="none" stroke="#1f77b4" stroke-width="1.8" stroke-linejoin="round" />
<polyline points="1047.92,-92.42 1048.06,-88.21 1048.20,-76.54 1048.34,-57.93 1048.47,-33.20 1048.61,-3.44 1048.75,30.08 1048.89,65.92 1049.03,102.53 1049.17,138.37 1049.31,171.91 1049.44,201.74 1049.58,226.61 1049.72,245.48 1049.86,257.58 1050.00,262.42 1050.14,259.82 1050.28,249.93 1050.41,233.20 1050.55,210.36 1050.69,182.42 1050.83,150.59 1050.97,116.22 1051.11,80.79 1051.25,45.82 1051.38,12.78 1051.52,-16.92 1051.66,-42.05 1051.80,-61.56 1051.94,-74.63 1052.08,-80.74 1052.22,-79.66 1052.35,-71.47 1052.49,-56.55 1052.63,-35.55 1052.77,-9.40 1052.91,20.78 1053.05,53.68 1053.18,87.89 1053.32,121.96 1053.46,154.44 1053.60,183.95 1053.74,209.26 1053.88,229.30 1054.02,243.26 1054.15,250.55 1054.29,250.90 1054.43,244.33 1054.57,231.14 1054.71,211.92 1054.85,187.51 1054.99,158.97 1055.12,127.54 1055.26,94.55 1055.40,61.42 1055.54,29.56 1055.68,0.30 1055.82,-25.11 1055.96,-45.61 1056.09,-60.35 1056.23,-68.73 1056.37,-70.43 1056.51,-65.39 1056.65,-53.86 1056.79,-36.36 1056.93,-13.65 1057.06,13.27 1057.20,43.25 1057.34,75.00 1057.48,107.16 1057.62,138.37 1057.76,167.30 1057.90,192.74 1058.03,213.61 1058.17,229.06 1058.31,238.44 1058.45,241.39 1058.59,237.80 1058.73,227.87 1058.87,212.02 1059.00,190.98 1059.14,165.64 1059.28,137.10 1059.42,106.60 1059.56,75.43 1059.70,44.92 1059.84,16.37 1059.97,-9.03 1060.11,-30.20 1060.25,-46.26 1060.39,-56.56 1060.53,-60.68 1060.67,-58.47 1060.81,-50.05 1060.94,-35.80 1061.08,-16.37 1061.22,7.42 1061.36,34.52 1061.50,63.78 1061.64,93.93 1061.78,123.70 1061.91,151.83 1062.05,177.12 1062.19,198.51 1062.33,215.11 1062.47,226.24 1062.61,231.44 1062.74,230.53 1062.88,223.56 1063.02,210.85 1063.16,192.97 1063.30,170.71 1063.44,145.02 1063.58,117.02 1063.71,87.89 1063.85,58.89 1063.99,31.24 1064.13,6.12 1064.27,-15.43 1064.41,-32.49 1064.55,-44.37 1064.68,-50.58 1064.82,-50.88 1064.96,-45.28 1065.10,-34.05 1065.24,-17.69 1065.38,3.09 1065.52,27.38 1065.65,54.14 1065.79,82.22 1065.93,110.43 1066.07,137.55 1066.21,162.45 1066.35,184.08 1066.49,201.54 1066.62,214.09 1066.76,221.22 1066.90,222.66 1067.04,218.38 1067.18,208.56 1067.32,193.66 1067.46,174.33 1067.59,151.41 1067.73,125.89 1067.87,98.87 1068.01,71.49 1068.15,44.92 1068.29,20.29 1068.43,-1.36 1068.56,-19.13 1068.70,-32.28 1068.84,-40.27 1068.98,-42.78 1069.12,-39.73 1069.26,-31.27 1069.40,-17.78 1069.53,0.14 1069.67,21.71 1069.81,46.00 1069.95,71.97 1070.09,98.50 1070.23,124.47 1070.37,148.78 1070.50,170.40 1070.64,188.42 1070.78,202.09 1070.92,210.86 1071.06,214.37 1071.20,212.48 1071.33,205.32 1071.47,193.19 1071.61,176.64 1071.75,156.40 1071.89,133.32 1072.03,108.42 1072.17,82.75 1072.30,57.40 1072.44,33.46 1072.58,11.93 1072.72,-6.28 1072.86,-20.41 1073.00,-29.88 1073.14,-34.31 1073.27,-33.53 1073.41,-27.60 1073.55,-16.78 1073.69,-1.56 1073.83,17.39 1073.97,39.26 1074.11,63.10 1074.24,87.89 1074.38,112.58 1074.52,136.12 1074.66,157.50 1074.80,175.84 1074.94,190.37 1075.08,200.48 1075.21,205.77 1075.35,206.02 1075.49,201.26 1075.63,191.70 1075.77,177.77 1075.91,160.08 1076.05,139.40 1076.18,116.62 1076.32,92.72 1076.46,68.71 1076.60,45.62 1076.74,24.42 1076.88,6.01 1077.02,-8.85 1077.15,-19.53 1077.29,-25.61 1077.43,-26.84 1077.57,-23.19 1077.71,-14.83 1077.85,-2.15 1077.99,14.31 1078.12,33.82 1078.26,55.54 1078.40,78.55 1078.54,101.86 1078.68,124.47 1078.82,145.44 1078.96,163.87 1079.09,179.00 1079.23,190.19 1079.37,196.99 1079.51,199.13 1079.65,196.53 1079.79,189.33 1079.93,177.85 1080.06,162.59 1080.20,144.23 1080.34,123.55 1080.48,101.45 1080.62,78.86 1080.76,56.75 1080.89,36.06 1081.03,17.66 1081.17,2.31 1081.31,-9.33 1081.45,-16.79 1081.59,-19.77 1081.73,-18.17 1081.86,-12.07 1082.00,-1.75 1082.14,12.34 1082.28,29.58 1082.42,49.22 1082.56,70.42 1082.70,92.27 1082.83,113.84 1082.97,134.23 1083.11,152.55 1083.25,168.05 1083.39,180.09 1083.53,188.15 1083.67,191.92 1083.80,191.26 1083.94,186.20 1084.08,177.00 1084.22,164.04 1084.36,147.91 1084.50,129.29 1084.64,109.00 1084.77,87.89 1084.91,66.87 1085.05,46.84 1085.19,28.63 1085.33,13.02 1085.47,0.65 1085.61,-7.95 1085.74,-12.45 1085.88,-12.67 1086.02,-8.62 1086.16,-0.48 1086.30,11.38 1086.44,26.44 1086.58,44.04 1086.71,63.43 1086.85,83.78 1086.99,104.22 1087.13,123.88 1087.27,141.93 1087.41,157.60 1087.55,170.25 1087.68,179.34 1087.82,184.51 1087.96,185.56 1088.10,182.45 1088.24,175.34 1088.38,164.54 1088.52,150.53 1088.65,133.93 1088.79,115.43 1088.93,95.84 1089.07,76.00 1089.21,56.75 1089.35,38.90 1089.48,23.21 1089.62,10.33 1089.76,0.81 1089.90,-4.98 1090.04,-6.80 1090.18,-4.59 1090.32,1.54 1090.45,11.31 1090.59,24.30 1090.73,39.93 1090.87,57.53 1091.01,76.35 1091.15,95.58 1091.29,114.40 1091.42,132.02 1091.56,147.68 1091.70,160.74 1091.84,170.65 1091.98,177.00 1092.12,179.54 1092.26,178.18 1092.39,172.99 1092.53,164.20 1092.67,152.21 1092.81,137.53 1092.95,120.82 1093.09,102.77 1093.23,84.16 1093.36,65.80 1093.50,48.45 1093.64,32.85 1093.78,19.65 1093.92,9.41 1094.06,2.54 1094.20,-0.67 1094.33,-0.10 1094.47,4.20 1094.61,12.04 1094.75,23.07 1094.89,36.80 1095.03,52.65 1095.17,69.92 1095.30,87.89 1095.44,105.78 1095.58,122.84 1095.72,138.34 1095.86,151.63 1096.00,162.15 1096.14,169.48 1096.27,173.31 1096.41,173.50 1096.55,170.05 1096.69,163.12 1096.83,153.02 1096.97,140.21 1097.11,125.22 1097.24,108.71 1097.38,91.39 1097.52,73.99 1097.66,57.26 1097.80,41.89 1097.94,28.55 1098.08,17.78 1098.21,10.04 1098.35,5.64 1098.49,4.75 1098.63,7.40 1098.77,13.45 1098.91,22.64 1099.04,34.57 1099.18,48.70 1099.32,64.45 1099.46,81.12 1099.60,98.01 1099.74,114.40 1099.88,129.59 1100.01,142.95 1100.15,153.91 1100.29,162.03 1100.43,166.95 1100.57,168.50 1100.71,166.62 1100.85,161.40 1100.98,153.08 1101.12,142.03 1101.26,128.72 1101.40,113.73 1101.54,97.72 1101.68,81.35 1101.82,65.33 1101.95,50.33 1102.09,36.99 1102.23,25.88 1102.37,17.44 1102.51,12.03 1102.65,9.87 1102.79,11.03 1102.92,15.45 1103.06,22.93 1103.20,33.14 1103.34,45.63 1103.48,59.86 1103.62,75.23 1103.76,91.06 1103.89,106.70 1104.03,121.47 1104.17,134.75 1104.31,145.98 1104.45,154.70 1104.59,160.55 1104.73,163.28 1104.86,162.80 1105.00,159.14 1105.14,152.46 1105.28,143.08 1105.42,131.38 1105.56,117.89 1105.70,103.19 1105.83,87.89 1105.97,72.66 1106.11,58.14 1106.25,44.95 1106.39,33.63 1106.53,24.67 1106.67,18.44 1106.80,15.18 1106.94,15.02 1107.08,17.96 1107.22,23.85 1107.36,32.45 1107.50,43.36 1107.64,56.11 1107.77,70.17 1107.91,84.91 1108.05,99.73 1108.19,113.97 1108.33,127.05 1108.47,138.41 1108.60,147.57 1108.74,154.16 1108.88,157.91 1109.02,158.67 1109.16,156.42 1109.30,151.26 1109.44,143.44 1109.57,133.29 1109.71,121.25 1109.85,107.85 1109.99,93.66 1110.13,79.28 1110.27,65.33 1110.41,52.39 1110.54,41.02 1110.68,31.69 1110.82,24.78 1110.96,20.59 1111.10,19.27 1111.24,20.87 1111.38,25.32 1111.51,32.40 1111.65,41.81 1111.79,53.14 1111.93,65.89 1112.07,79.53 1112.21,93.46 1112.35,107.10 1112.48,119.87 1112.62,131.22 1112.76,140.68 1112.90,147.87 1113.04,152.47 1113.18,154.31 1113.32,153.32 1113.45,149.56 1113.59,143.19 1113.73,134.50 1113.87,123.87 1114.01,111.75 1114.15,98.67 1114.29,85.19 1114.42,71.88 1114.56,59.31 1114.70,48.00 1114.84,38.44 1114.98,31.02 1115.12,26.04 1115.26,23.72 1115.39,24.13 1115.53,27.24 1115.67,32.92 1115.81,40.91 1115.95,50.87 1116.09,62.35 1116.23,74.87 1116.36,87.89 1116.50,100.86 1116.64,113.22 1116.78,124.45 1116.92,134.08 1117.06,141.71 1117.19,147.02 1117.33,149.79 1117.47,149.93 1117.61,147.43 1117.75,142.41 1117.89,135.09 1118.03,125.80 1118.16,114.94 1118.30,102.98 1118.44,90.43 1118.58,77.82 1118.72,65.69 1118.86,54.56 1119.00,44.89 1119.13,37.09 1119.27,31.48 1119.41,28.29 1119.55,27.64 1119.69,29.56 1119.83,33.95 1119.97,40.61 1120.10,49.25 1120.24,59.49 1120.38,70.90 1120.52,82.99 1120.66,95.23 1120.80,107.10 1120.94,118.11 1121.07,127.79 1121.21,135.74 1121.35,141.61 1121.49,145.19 1121.63,146.31 1121.77,144.94 1121.91,141.16 1122.04,135.13 1122.18,127.12 1122.32,117.48 1122.46,106.62 1122.60,95.01 1122.74,83.15 1122.88,71.54 1123.01,60.67 1123.15,51.01 1123.29,42.95 1123.43,36.84 1123.57,32.92 1123.71,31.35 1123.85,32.19 1123.98,35.40 1124.12,40.82 1124.26,48.22 1124.40,57.27 1124.54,67.58 1124.68,78.71 1124.82,90.19 1124.95,101.52 1125.09,112.22 1125.23,121.85 1125.37,129.99 1125.51,136.31 1125.65,140.54 1125.79,142.52 1125.92,142.17 1126.06,139.52 1126.20,134.69 1126.34,127.88 1126.48,119.41 1126.62,109.63 1126.75,98.98 1126.89,87.89 1127.03,76.85 1127.17,66.33 1127.31,56.77 1127.45,48.57 1127.59,42.08 1127.72,37.56 1127.86,35.20 1128.00,35.08 1128.14,37.21 1128.28,41.48 1128.42,47.71 1128.56,55.62 1128.69,64.86 1128.83,75.05 1128.97,85.73 1129.11,96.47 1129.25,106.79 1129.39,116.27 1129.53,124.50 1129.66,131.14 1129.80,135.92 1129.94,138.63 1130.08,139.18 1130.22,137.55 1130.36,133.81 1130.50,128.14 1130.63,120.79 1130.77,112.07 1130.91,102.35 1131.05,92.07 1131.19,81.65 1131.33,71.54 1131.47,62.17 1131.60,53.93 1131.74,47.16 1131.88,42.16 1132.02,39.12 1132.16,38.16 1132.30,39.33 1132.44,42.54 1132.57,47.68 1132.71,54.50 1132.85,62.70 1132.99,71.95 1133.13,81.83 1133.27,91.93 1133.41,101.81 1133.54,111.06 1133.68,119.29 1133.82,126.15 1133.96,131.35 1134.10,134.69 1134.24,136.02 1134.38,135.31 1134.51,132.58 1134.65,127.96 1134.79,121.67 1134.93,113.96 1135.07,105.18 1135.21,95.70 1135.35,85.93 1135.48,76.29 1135.62,67.18 1135.76,58.99 1135.90,52.05 1136.04,46.68 1136.18,43.07 1136.31,41.39 1136.45,41.68 1136.59,43.94 1136.73,48.06 1136.87,53.85 1137.01,61.06 1137.15,69.38 1137.28,78.46 1137.42,87.89 1137.56,97.29 1137.70,106.24 1137.84,114.38 1137.98,121.36 1138.12,126.89 1138.25,130.74 1138.39,132.75 1138.53,132.85 1138.67,131.04 1138.81,127.40 1138.95,122.10 1139.09,115.37 1139.22,107.50 1139.36,98.83 1139.50,89.73 1139.64,80.59 1139.78,71.80 1139.92,63.74 1140.06,56.73 1140.19,51.07 1140.33,47.01 1140.47,44.70 1140.61,44.23 1140.75,45.62 1140.89,48.80 1141.03,53.63 1141.16,59.89 1141.30,67.31 1141.44,75.58 1141.58,84.34 1141.72,93.21 1141.86,101.81 1142.00,109.79 1142.13,116.81 1142.27,122.56 1142.41,126.82 1142.55,129.41 1142.69,130.22 1142.83,129.24 1142.97,126.49 1143.10,122.13 1143.24,116.32 1143.38,109.33 1143.52,101.46 1143.66,93.05 1143.80,84.45 1143.94,76.04 1144.07,68.17 1144.21,61.16 1144.35,55.32 1144.49,50.89 1144.63,48.05 1144.77,46.92 1144.90,47.53 1145.04,49.85 1145.18,53.78 1145.32,59.14 1145.46,65.70 1145.60,73.17 1145.74,81.24 1145.87,89.56 1146.01,97.77 1146.15,105.52 1146.29,112.50 1146.43,118.40 1146.57,122.98 1146.71,126.05 1146.84,127.48 1146.98,127.23 1147.12,125.31 1147.26,121.80 1147.40,116.87 1147.54,110.73 1147.68,103.65 1147.81,95.92 1147.95,87.89 1148.09,79.89 1148.23,72.27 1148.37,65.34 1148.51,59.40 1148.65,54.69 1148.78,51.42 1148.92,49.70 1149.06,49.62 1149.20,51.16 1149.34,54.26 1149.48,58.77 1149.62,64.50 1149.75,71.20 1149.89,78.58 1150.03,86.33 1150.17,94.11 1150.31,101.59 1150.45,108.45 1150.59,114.42 1150.72,119.23 1150.86,122.69 1151.00,124.66 1151.14,125.06 1151.28,123.88 1151.42,121.17 1151.56,117.06 1151.69,111.73 1151.83,105.41 1151.97,98.37 1152.11,90.92 1152.25,83.37 1152.39,76.04 1152.53,69.25 1152.66,63.28 1152.80,58.38 1152.94,54.75 1153.08,52.55 1153.22,51.86 1153.36,52.70 1153.50,55.03 1153.63,58.75 1153.77,63.69 1153.91,69.64 1154.05,76.34 1154.19,83.50 1154.33,90.82 1154.46,97.98 1154.60,104.68 1154.74,110.65 1154.88,115.62 1155.02,119.39 1155.16,121.80 1155.30,122.77 1155.43,122.25 1155.57,120.28 1155.71,116.93 1155.85,112.37 1155.99,106.78 1156.13,100.42 1156.27,93.55 1156.40,86.47 1156.54,79.48 1156.68,72.88 1156.82,66.94 1156.96,61.92 1157.10,58.02 1157.24,55.41 1157.37,54.19 1157.51,54.41 1157.65,56.04 1157.79,59.02 1157.93,63.22 1158.07,68.45 1158.21,74.48 1158.34,81.05 1158.48,87.89 1158.62,94.70 1158.76,101.19 1158.90,107.09 1159.04,112.15 1159.18,116.15 1159.31,118.94 1159.45,120.40 1159.59,120.47 1159.73,119.16 1159.87,116.52 1160.01,112.68 1160.15,107.80 1160.28,102.10 1160.42,95.82 1160.56,89.22 1160.70,82.60 1160.84,76.23 1160.98,70.39 1161.12,65.31 1161.25,61.21 1161.39,58.27 1161.53,56.59 1161.67,56.25 1161.81,57.26 1161.95,59.56 1162.09,63.06 1162.22,67.60 1162.36,72.98 1162.50,78.97 1162.64,85.32 1162.78,91.74 1162.92,97.98 1163.06,103.76 1163.19,108.85 1163.33,113.02 1163.47,116.10 1163.61,117.98 1163.75,118.57 1163.89,117.85 1164.02,115.87 1164.16,112.70 1164.30,108.49 1164.44,103.43 1164.58,97.73 1164.72,91.63 1164.86,85.40 1164.99,79.30 1165.13,73.60 1165.27,68.52 1165.41,64.29 1165.55,61.08 1165.69,59.02 1165.83,58.20 1165.96,58.64 1166.10,60.32 1166.24,63.17 1166.38,67.06 1166.52,71.81 1166.66,77.23 1166.80,83.07 1166.93,89.10 1167.07,95.05 1167.21,100.67 1167.35,105.72 1167.49,110.00 1167.63,113.32 1167.77,115.54 1167.90,116.58 1168.04,116.40 1168.18,115.00 1168.32,112.47 1168.46,108.89 1168.60,104.44 1168.74,99.31 1168.87,93.71 1169.01,87.89 1169.15,82.10 1169.29,76.57 1169.43,71.55 1169.57,67.24 1169.71,63.83 1169.84,61.46 1169.98,60.22 1170.12,60.16 1170.26,61.28 1170.40,63.52 1170.54,66.79 1170.68,70.94 1170.81,75.80 1170.95,81.15 1171.09,86.76 1171.23,92.40 1171.37,97.82 1171.51,102.79 1171.65,107.12 1171.78,110.60 1171.92,113.11 1172.06,114.54 1172.20,114.83 1172.34,113.97 1172.48,112.01 1172.62,109.03 1172.75,105.17 1172.89,100.59 1173.03,95.49 1173.17,90.09 1173.31,84.61 1173.45,79.30 1173.58,74.38 1173.72,70.05 1173.86,66.50 1174.00,63.87 1174.14,62.28 1174.28,61.78 1174.42,62.39 1174.55,64.08 1174.69,66.77 1174.83,70.35 1174.97,74.66 1175.11,79.52 1175.25,84.71 1175.39,90.01 1175.52,95.17 1175.66,99.93 1175.80,104.09 1175.94,107.50 1176.08,110.02 1176.22,111.56 1176.36,112.08 1176.49,111.57 1176.63,110.08 1176.77,107.69 1176.91,104.51 1177.05,100.70 1177.19,96.43 1177.33,91.89 1177.46,87.27 1177.60,82.78 1177.74,78.60 1177.88,74.90 1178.02,71.84 1178.16,69.53 1178.30,68.05 1178.43,67.46 1178.57,67.76 1178.71,68.93 1178.85,70.90 1178.99,73.57 1179.13,76.82 1179.27,80.50 1179.40,84.45 1179.54,88.49 1179.68,92.47 1179.82,96.20 1179.96,99.55 1180.10,102.36 1180.24,104.55 1180.37,106.01 1180.51,106.72 1180.65,106.65 1180.79,105.82 1180.93,104.29 1181.07,102.12 1181.21,99.42 1181.34,96.33 1181.48,92.97 1181.62,89.50 1181.76,86.06 1181.90,82.80 1182.04,79.85 1182.17,77.34 1182.31,75.37 1182.45,74.00 1182.59,73.29 1182.73,73.25 1182.87,73.88 1183.01,75.14 1183.14,76.96 1183.28,79.25 1183.42,81.92 1183.56,84.84 1183.70,87.88 1183.84,90.92 1183.98,93.83 1184.11,96.49 1184.25,98.79 1184.39,100.64 1184.53,101.98 1184.67,102.75 1184.81,102.94 1184.95,102.54 1185.08,101.59 1185.22,100.15 1185.36,98.27 1185.50,96.04 1185.64,93.58 1185.78,90.99 1185.92,88.37 1186.05,85.85 1186.19,83.53 1186.33,81.50 1186.47,79.84 1186.61,78.63 1186.75,77.89 1186.89,77.67 1187.02,77.95 1187.16,78.71 1187.30,79.93 1187.44,81.53 1187.58,83.44 1187.72,85.59 1187.86,87.86 1187.99,90.18 1188.13,92.43 1188.27,94.53 1188.41,96.38 1188.55,97.93 1188.69,99.10 1188.83,99.86 1188.96,100.19 1189.10,100.07 1189.24,99.52 1189.38,98.58 1189.52,97.29 1189.66,95.71 1189.80,93.92 1189.93,92.00 1190.07,90.02 1190.21,88.09 1190.35,86.27 1190.49,84.65 1190.63,83.28 1190.77,82.23 1190.90,86.74 1191.04,86.55 1191.18,86.51 1191.32,86.63 1191.46,86.90 1191.60,87.30 1191.73,87.83 1191.87,88.45 1192.01,89.15 1192.15,89.89 1192.29,90.65 1192.43,91.38 1192.57,92.05 1192.70,92.65 1192.84,93.13 1192.98,93.48 1193.12,93.69 1193.26,93.74 1193.40,93.62 1193.54,93.35 1193.67,92.93 1193.81,92.39 1193.95,91.73 1194.09,90.99 1194.23,90.20 1194.37,89.40 1194.51,88.61 1194.64,87.87 1194.78,87.21 1194.92,86.66 1195.06,86.24 1195.20,85.97 1195.34,85.87 1195.48,85.93 1195.61,86.16 1195.75,86.54 1195.89,87.07 1196.03,87.71 1196.17,88.44 1196.31,89.23 1196.45,90.05 1196.58,90.85 1196.72,91.61 1196.86,92.30 1197.00,92.87 1197.14,93.31 1197.28,93.60 1197.42,93.72 1197.55,93.67 1197.69,93.45 1197.83,93.06 1197.97,92.52 1198.11,91.85 1198.25,91.08 1198.39,90.25 1198.52,89.38 1198.66,88.52 1198.80,87.69 1198.94,86.94 1199.08,86.30 1199.22,85.79 1199.36,85.43 1199.49,85.25 1199.63,85.25 1199.77,85.43 1199.91,85.78 1200.05,86.29 1200.19,86.93 1200.32,87.69 1200.46,88.52 1200.60,89.39 1200.74,90.27 1200.88,91.12 1201.02,91.89 1201.16,92.56 1201.29,93.10 1201.43,93.48 1201.57,93.68 1201.71,93.70 1201.85,93.53 1201.99,93.18 1202.13,92.66 1202.26,92.00 1202.40,91.21 1202.54,90.34 1202.68,89.42 1202.82,88.48 1202.96,87.58 1203.10,86.73 1203.23,85.99 1203.37,85.39 1203.51,84.94 1203.65,84.67 1203.79,84.59 1203.93,84.71 1204.07,85.01 1204.20,85.49 1204.34,86.13 1204.48,86.90 1204.62,87.76 1204.76,88.69 1204.90,89.64 1205.04,90.56 1205.17,91.43 1205.31,92.20 1205.45,92.83 1205.59,93.31 1205.73,93.60 1205.87,93.70 1206.01,93.60 1206.14,93.30 1206.28,92.82 1206.42,92.17 1206.56,91.37 1206.70,90.47 1206.84,89.50 1206.98,88.51 1207.11,87.52 1207.25,86.59 1207.39,85.75 1207.53,85.04 1207.67,84.49 1207.81,84.13 1207.95,83.96 1208.08,84.00 1208.22,84.25 1208.36,84.69 1208.50,85.31 1208.64,86.08 1208.78,86.97 1208.92,87.94 1209.05,88.95 1209.19,89.95 1209.33,90.90 1209.47,91.77 1209.61,92.51 1209.75,93.09 1209.88,93.48 1210.02,93.67 1210.16,93.65 1210.30,93.42 1210.44,92.98 1210.58,92.35 1210.72,91.56 1210.85,90.65 1210.99,89.64 1211.13,88.58 1211.27,87.52 1211.41,86.50 1211.55,85.56 1211.69,84.75 1211.82,84.10 1211.96,83.63 1212.10,83.37 1212.24,83.32 1212.38,83.50 1212.52,83.89 1212.66,84.48 1212.79,85.24 1212.93,86.14 1213.07,87.14 1213.21,88.20 1213.35,89.28 1213.49,90.32 1213.63,91.28 1213.76,92.13 1213.90,92.81 1214.04,93.32 1214.18,93.61 1214.32,93.67 1214.46,93.51 1214.60,93.13 1214.73,92.54 1214.87,91.77 1215.01,90.85 1215.15,89.81 1215.29,88.71 1215.43,87.58 1215.57,86.47 1215.70,85.44 1215.84,84.52 1215.98,83.76 1216.12,83.18 1216.26,82.81 1216.40,82.67 1216.54,82.77 1216.67,83.10 1216.81,83.64 1216.95,84.38 1217.09,85.28 1217.23,86.30 1217.37,87.41 1217.51,88.55 1217.64,89.67 1217.78,90.73 1217.92,91.68 1218.06,92.48 1218.20,93.10 1218.34,93.49 1218.48,93.66 1218.61,93.59 1218.75,93.28 1218.89,92.74 1219.03,92.00 1219.17,91.08 1219.31,90.03 1219.44,88.88 1219.58,87.69 1219.72,86.51 1219.86,85.38 1220.00,84.35 1220.14,83.48 1220.28,82.78 1220.41,82.31 1220.55,82.06 1220.69,82.07 1220.83,82.32 1220.97,82.80 1221.11,83.51 1221.25,84.39 1221.38,85.43 1221.52,86.57 1221.66,87.77 1221.80,88.97 1221.94,90.12 1222.08,91.18 1222.22,92.09 1222.35,92.82 1222.49,93.33 1222.63,93.61 1222.77,93.63 1222.91,93.41 1223.05,92.93 1223.19,92.23 1223.32,91.33 1223.46,90.27 1223.60,89.10 1223.74,87.86 1223.88,86.60 1224.02,85.38 1224.16,84.25 1224.29,83.26 1224.43,82.45 1224.57,81.85 1224.71,81.50 1224.85,81.40 1224.99,81.56 1225.13,81.98 1225.26,82.63 1225.40,83.49 1225.54,84.53 1225.68,85.69 1225.82,86.93 1225.96,88.20 1226.10,89.44 1226.23,90.60 1226.37,91.63 1226.51,92.48 1226.65,93.12 1226.79,93.51 1226.93,93.64 1227.07,93.51 1227.20,93.11 1227.34,92.47 1227.48,91.60 1227.62,90.55 1227.76,89.36 1227.90,88.07 1228.03,86.75 1228.17,85.45 1228.31,84.21 1228.45,83.11 1228.59,82.18 1228.73,81.46 1228.87,80.98 1229.00,80.77 1229.14,80.83 1229.28,81.16 1229.42,81.75 1229.56,82.58 1229.70,83.60 1229.84,84.77 1229.97,86.05 1230.11,87.38 1230.25,88.71 1230.39,89.97 1230.53,91.11 1230.67,92.08 1230.81,92.84 1230.94,93.36 1231.08,93.61 1231.22,93.58 1231.36,93.27 1231.50,92.70 1231.64,91.88 1231.78,90.85 1231.91,89.65 1232.05,88.33 1232.19,86.95 1232.33,85.57 1232.47,84.24 1232.61,83.03 1232.75,81.97 1232.88,81.12 1233.02,80.52 1233.16,80.18 1233.30,80.13 1233.44,80.37 1233.58,80.89 1233.72,81.66 1233.85,82.65 1233.99,83.82 1234.13,85.13 1234.27,86.51 1234.41,87.91 1234.55,89.26 1234.69,90.51 1234.82,91.61 1234.96,92.50 1235.10,93.15 1235.24,93.53 1235.38,93.61 1235.52,93.41 1235.66,92.91 1235.79,92.15 1235.93,91.16 1236.07,89.97 1236.21,88.63 1236.35,87.21 1236.49,85.76 1236.63,84.34 1236.76,83.01 1236.90,81.83 1237.04,80.85 1237.18,80.12 1237.32,79.65 1237.46,79.48 1237.59,79.61 1237.73,80.04 1237.87,80.74 1238.01,81.69 1238.15,82.85 1238.29,84.17 1238.43,85.59 1238.56,87.05 1238.70,88.49 1238.84,89.85 1238.98,91.07 1239.12,92.09 1239.26,92.88 1239.40,93.39 1239.53,93.60 1239.67,93.51 1239.81,93.11 1239.95,92.42 1240.09,91.48 1240.23,90.31 1240.37,88.97 1240.50,87.51 1240.64,86.00 1240.78,84.49 1240.92,83.06 1241.06,81.76 1241.20,80.65 1241.34,79.78 1241.47,79.18 1241.61,78.88 1241.75,78.89 1241.89,79.21 1242.03,79.83 1242.17,80.73 1242.31,81.86 1242.44,83.17 1242.58,84.62 1242.72,86.14 1242.86,87.66 1243.00,89.12 1243.14,90.46 1243.28,91.61 1243.41,92.54 1243.55,93.19 1243.69,93.54 1243.83,93.57 1243.97,93.28 1244.11,92.68 1244.25,91.80 1244.38,90.67 1244.52,89.34 1244.66,87.86 1244.80,86.29 1244.94,84.71 1245.08,83.18 1245.22,81.77 1245.35,80.53 1245.49,79.51 1245.63,78.77 1245.77,78.33 1245.91,78.21 1246.05,78.41 1246.19,78.94 1246.32,79.77 1246.46,80.85 1246.60,82.15 1246.74,83.62 1246.88,85.18 1247.02,86.77 1247.15,88.33 1247.29,89.78 1247.43,91.06 1247.57,92.13 1247.71,92.92 1247.85,93.42 1247.99,93.58 1248.12,93.42 1248.26,92.92 1248.40,92.11 1248.54,91.03 1248.68,89.72 1248.82,88.24 1248.96,86.64 1249.09,84.99 1249.23,83.37 1249.37,81.84 1249.51,80.47 1249.65,79.31 1249.79,78.42 1249.93,77.83 1250.06,77.58 1250.20,77.66 1250.34,78.08 1250.48,78.81 1250.62,79.84 1250.76,81.11 1250.90,82.58 1251.03,84.17 1251.17,85.82 1251.31,87.46 1251.45,89.03 1251.59,90.44 1251.73,91.65 1251.87,92.59 1252.00,93.23 1252.14,93.54 1252.28,93.51 1252.42,93.13 1252.56,92.42 1252.70,91.40 1252.84,90.13 1252.97,88.65 1253.11,87.03 1253.25,85.33 1253.39,83.62 1253.53,81.99 1253.67,80.49 1253.81,79.19 1253.94,78.15 1254.08,77.41 1254.22,77.00 1254.36,76.95 1254.50,77.24 1254.64,77.88 1254.78,78.83 1254.91,80.06 1255.05,81.51 1255.19,83.12 1255.33,84.82 1255.47,86.54 1255.61,88.20 1255.74,89.74 1255.88,91.09 1256.02,92.18 1256.16,92.98 1256.30,93.44 1256.44,93.55 1256.58,93.30 1256.71,92.69 1256.85,91.76 1256.99,90.54 1257.13,89.09 1257.27,87.45 1257.41,85.71 1257.55,83.94 1257.68,82.20 1257.82,80.58 1257.96,79.14 1258.10,77.95 1258.24,77.06 1258.38,76.49 1258.52,76.29 1258.65,76.45 1258.79,76.97 1258.93,77.84 1259.07,79.00 1259.21,80.42 1259.35,82.03 1259.49,83.77 1259.62,85.55 1259.76,87.31 1259.90,88.97 1260.04,90.45 1260.18,91.70 1260.32,92.66 1260.46,93.28 1260.59,93.54 1260.73,93.43 1260.87,92.94 1261.01,92.11 1261.15,90.96 1261.29,89.54 1261.43,87.91 1261.56,86.14 1261.70,84.31 1261.84,82.48 1261.98,80.75 1262.12,79.18 1262.26,77.83 1262.40,76.77 1262.53,76.05 1262.67,75.69 1262.81,75.71 1262.95,76.10 1263.09,76.86 1263.23,77.95 1263.37,79.32 1263.50,80.92 1263.64,82.67 1263.78,84.51 1263.92,86.36 1264.06,88.13 1264.20,89.74 1264.34,91.14 1264.47,92.26 1264.61,93.04 1264.75,93.46 1264.89,93.50 1265.03,93.15 1265.17,92.43 1265.30,91.37 1265.44,90.00 1265.58,88.40 1265.72,86.61 1265.86,84.73 1266.00,82.83 1266.14,80.99 1266.27,79.28 1266.41,77.79 1266.55,76.57 1266.69,75.68 1266.83,75.15 1266.97,75.01 1267.11,75.27 1267.24,75.91 1267.38,76.90 1267.52,78.21 1267.66,79.78 1267.80,81.54 1267.94,83.42 1268.08,85.34 1268.21,87.21 1268.35,88.95 1268.49,90.50 1268.63,91.78 1268.77,92.73 1268.91,93.32 1269.05,93.52 1269.18,93.32 1269.32,92.73 1269.46,91.76 1269.60,90.47" fill="none" stroke="#ff9a4a" stroke-width="1.7" stroke-linejoin="round" stroke-opacity="0.55"/>
<polyline points="1047.92,84.96 1049.03,85.16 1050.14,85.35 1051.25,85.52 1052.35,85.70 1053.46,85.86 1054.57,86.02 1055.68,86.17 1056.79,86.32 1057.90,86.46 1059.00,86.60 1060.11,86.73 1061.22,86.85 1062.33,86.97 1063.44,87.09 1064.55,87.20 1065.65,87.31 1066.76,87.41 1067.87,87.51 1068.98,87.60 1070.09,87.69 1071.20,87.78 1072.30,87.86 1073.41,87.94 1074.52,88.02 1075.63,88.10 1076.74,88.17 1077.85,88.24 1078.96,88.30 1080.06,88.37 1081.17,88.43 1082.28,88.48 1083.39,88.54 1084.50,88.59 1085.61,88.65 1086.71,88.70 1087.82,88.74 1088.93,88.79 1090.04,88.83 1091.15,88.88 1092.26,88.92 1093.36,88.96 1094.47,88.99 1095.58,89.03 1096.69,89.07 1097.80,89.10 1098.91,89.13 1100.01,89.16 1101.12,89.19 1102.23,89.22 1103.34,89.25 1104.45,89.27 1105.56,89.30 1106.67,89.32 1107.77,89.35 1108.88,89.37 1109.99,89.39 1111.10,89.41 1112.21,89.43 1113.32,89.45 1114.42,89.47 1115.53,89.49 1116.64,89.50 1117.75,89.52 1118.86,89.54 1119.97,89.55 1121.07,89.56 1122.18,89.58 1123.29,89.59 1124.40,89.60 1125.51,89.62 1126.62,89.63 1127.72,89.64 1128.83,89.65 1129.94,89.66 1131.05,89.67 1132.16,89.68 1133.27,89.69 1134.38,89.70 1135.48,89.71 1136.59,89.72 1137.70,89.72 1138.81,89.73 1139.92,89.74 1141.03,89.75 1142.13,89.75 1143.24,89.76 1144.35,89.77 1145.46,89.77 1146.57,89.78 1147.68,89.78 1148.78,89.79 1149.89,89.79 1151.00,89.80 1152.11,89.80 1153.22,89.81 1154.33,89.81 1155.43,89.82 1156.54,89.82 1157.65,89.82 1158.76,89.83 1159.87,89.83 1160.98,89.83 1162.09,89.84 1163.19,89.84 1164.30,89.84 1165.41,89.85 1166.52,89.85 1167.63,89.85 1168.74,89.85 1169.84,89.86 1170.95,89.86 1172.06,89.86 1173.17,89.86 1174.28,89.87 1175.39,89.87 1176.49,89.87 1177.60,89.87 1178.71,89.87 1179.82,89.88 1180.93,89.88 1182.04,89.88 1183.14,89.88 1184.25,89.88 1185.36,89.88 1186.47,89.88 1187.58,89.89 1188.69,89.89 1189.80,89.89 1190.90,89.89 1192.01,89.89 1193.12,89.89 1194.23,89.89 1195.34,89.89 1196.45,89.89 1197.55,89.90 1198.66,89.90 1199.77,89.90 1200.88,89.90 1201.99,89.90 1203.10,89.90 1204.20,89.90 1205.31,89.90 1206.42,89.90 1207.53,89.90 1208.64,89.90 1209.75,89.90 1210.85,89.90 1211.96,89.90 1213.07,89.91 1214.18,89.91 1215.29,89.91 1216.40,89.91 1217.51,89.91 1218.61,89.91 1219.72,89.91 1220.83,89.91 1221.94,89.91 1223.05,89.91 1224.16,89.91 1225.26,89.91 1226.37,89.91 1227.48,89.91 1228.59,89.91 1229.70,89.91 1230.81,89.91 1231.91,89.91 1233.02,89.91 1234.13,89.91 1235.24,89.91 1236.35,89.91 1237.46,89.91 1238.56,89.91 1239.67,89.91 1240.78,89.91 1241.89,89.91 1243.00,89.91 1244.11,89.91 1245.22,89.91 1246.32,89.91 1247.43,89.91 1248.54,89.91 1249.65,89.91 1250.76,89.91 1251.87,89.92 1252.97,89.92 1254.08,89.92 1255.19,89.92 1256.30,89.92 1257.41,89.92 1258.52,89.92 1259.62,89.92 1260.73,89.92 1261.84,89.92 1262.95,89.92 1264.06,89.92 1265.17,89.92 1266.27,89.92 1267.38,89.92 1268.49,89.92 1269.60,89.92" fill="none" stroke="#2ca02c" stroke-width="2.2" stroke-linejoin="round" />
</g>
<rect x="992.5" y="31.6" width="277.0999999999999" height="135.1" fill="none" stroke="#222" stroke-width="1.6"/>
<line x1="992.50" y1="166.70" x2="992.50" y2="162.20" stroke="#222" stroke-width="1.3" />
<line x1="992.50" y1="31.60" x2="992.50" y2="36.10" stroke="#222" stroke-width="1.3" />
<line x1="1003.58" y1="166.70" x2="1003.58" y2="164.10" stroke="#222" stroke-width="1.3" />
<line x1="1003.58" y1="31.60" x2="1003.58" y2="34.20" stroke="#222" stroke-width="1.3" />
<line x1="1014.67" y1="166.70" x2="1014.67" y2="164.10" stroke="#222" stroke-width="1.3" />
<line x1="1014.67" y1="31.60" x2="1014.67" y2="34.20" stroke="#222" stroke-width="1.3" />
<line x1="1025.75" y1="166.70" x2="1025.75" y2="164.10" stroke="#222" stroke-width="1.3" />
<line x1="1025.75" y1="31.60" x2="1025.75" y2="34.20" stroke="#222" stroke-width="1.3" />
<line x1="1036.84" y1="166.70" x2="1036.84" y2="164.10" stroke="#222" stroke-width="1.3" />
<line x1="1036.84" y1="31.60" x2="1036.84" y2="34.20" stroke="#222" stroke-width="1.3" />
<line x1="1047.92" y1="166.70" x2="1047.92" y2="162.20" stroke="#222" stroke-width="1.3" />
<line x1="1047.92" y1="31.60" x2="1047.92" y2="36.10" stroke="#222" stroke-width="1.3" />
<line x1="1059.00" y1="166.70" x2="1059.00" y2="164.10" stroke="#222" stroke-width="1.3" />
<line x1="1059.00" y1="31.60" x2="1059.00" y2="34.20" stroke="#222" stroke-width="1.3" />
<line x1="1070.09" y1="166.70" x2="1070.09" y2="164.10" stroke="#222" stroke-width="1.3" />
<line x1="1070.09" y1="31.60" x2="1070.09" y2="34.20" stroke="#222" stroke-width="1.3" />
<line x1="1081.17" y1="166.70" x2="1081.17" y2="164.10" stroke="#222" stroke-width="1.3" />
<line x1="1081.17" y1="31.60" x2="1081.17" y2="34.20" stroke="#222" stroke-width="1.3" />
<line x1="1092.26" y1="166.70" x2="1092.26" y2="164.10" stroke="#222" stroke-width="1.3" />
<line x1="1092.26" y1="31.60" x2="1092.26" y2="34.20" stroke="#222" stroke-width="1.3" />
<line x1="1103.34" y1="166.70" x2="1103.34" y2="162.20" stroke="#222" stroke-width="1.3" />
<line x1="1103.34" y1="31.60" x2="1103.34" y2="36.10" stroke="#222" stroke-width="1.3" />
<line x1="1114.42" y1="166.70" x2="1114.42" y2="164.10" stroke="#222" stroke-width="1.3" />
<line x1="1114.42" y1="31.60" x2="1114.42" y2="34.20" stroke="#222" stroke-width="1.3" />
<line x1="1125.51" y1="166.70" x2="1125.51" y2="164.10" stroke="#222" stroke-width="1.3" />
<line x1="1125.51" y1="31.60" x2="1125.51" y2="34.20" stroke="#222" stroke-width="1.3" />
<line x1="1136.59" y1="166.70" x2="1136.59" y2="164.10" stroke="#222" stroke-width="1.3" />
<line x1="1136.59" y1="31.60" x2="1136.59" y2="34.20" stroke="#222" stroke-width="1.3" />
<line x1="1147.68" y1="166.70" x2="1147.68" y2="164.10" stroke="#222" stroke-width="1.3" />
<line x1="1147.68" y1="31.60" x2="1147.68" y2="34.20" stroke="#222" stroke-width="1.3" />
<line x1="1158.76" y1="166.70" x2="1158.76" y2="162.20" stroke="#222" stroke-width="1.3" />
<line x1="1158.76" y1="31.60" x2="1158.76" y2="36.10" stroke="#222" stroke-width="1.3" />
<line x1="1169.84" y1="166.70" x2="1169.84" y2="164.10" stroke="#222" stroke-width="1.3" />
<line x1="1169.84" y1="31.60" x2="1169.84" y2="34.20" stroke="#222" stroke-width="1.3" />
<line x1="1180.93" y1="166.70" x2="1180.93" y2="164.10" stroke="#222" stroke-width="1.3" />
<line x1="1180.93" y1="31.60" x2="1180.93" y2="34.20" stroke="#222" stroke-width="1.3" />
<line x1="1192.01" y1="166.70" x2="1192.01" y2="164.10" stroke="#222" stroke-width="1.3" />
<line x1="1192.01" y1="31.60" x2="1192.01" y2="34.20" stroke="#222" stroke-width="1.3" />
<line x1="1203.10" y1="166.70" x2="1203.10" y2="164.10" stroke="#222" stroke-width="1.3" />
<line x1="1203.10" y1="31.60" x2="1203.10" y2="34.20" stroke="#222" stroke-width="1.3" />
<line x1="1214.18" y1="166.70" x2="1214.18" y2="162.20" stroke="#222" stroke-width="1.3" />
<line x1="1214.18" y1="31.60" x2="1214.18" y2="36.10" stroke="#222" stroke-width="1.3" />
<line x1="1225.26" y1="166.70" x2="1225.26" y2="164.10" stroke="#222" stroke-width="1.3" />
<line x1="1225.26" y1="31.60" x2="1225.26" y2="34.20" stroke="#222" stroke-width="1.3" />
<line x1="1236.35" y1="166.70" x2="1236.35" y2="164.10" stroke="#222" stroke-width="1.3" />
<line x1="1236.35" y1="31.60" x2="1236.35" y2="34.20" stroke="#222" stroke-width="1.3" />
<line x1="1247.43" y1="166.70" x2="1247.43" y2="164.10" stroke="#222" stroke-width="1.3" />
<line x1="1247.43" y1="31.60" x2="1247.43" y2="34.20" stroke="#222" stroke-width="1.3" />
<line x1="1258.52" y1="166.70" x2="1258.52" y2="164.10" stroke="#222" stroke-width="1.3" />
<line x1="1258.52" y1="31.60" x2="1258.52" y2="34.20" stroke="#222" stroke-width="1.3" />
<line x1="1269.60" y1="166.70" x2="1269.60" y2="162.20" stroke="#222" stroke-width="1.3" />
<line x1="1269.60" y1="31.60" x2="1269.60" y2="36.10" stroke="#222" stroke-width="1.3" />
<line x1="992.50" y1="166.70" x2="995.10" y2="166.70" stroke="#222" stroke-width="1.3" />
<line x1="1269.60" y1="166.70" x2="1267.00" y2="166.70" stroke="#222" stroke-width="1.3" />
<line x1="992.50" y1="155.44" x2="995.10" y2="155.44" stroke="#222" stroke-width="1.3" />
<line x1="1269.60" y1="155.44" x2="1267.00" y2="155.44" stroke="#222" stroke-width="1.3" />
<line x1="992.50" y1="144.18" x2="997.00" y2="144.18" stroke="#222" stroke-width="1.3" />
<line x1="1269.60" y1="144.18" x2="1265.10" y2="144.18" stroke="#222" stroke-width="1.3" />
<line x1="992.50" y1="132.92" x2="995.10" y2="132.92" stroke="#222" stroke-width="1.3" />
<line x1="1269.60" y1="132.92" x2="1267.00" y2="132.92" stroke="#222" stroke-width="1.3" />
<line x1="992.50" y1="121.67" x2="995.10" y2="121.67" stroke="#222" stroke-width="1.3" />
<line x1="1269.60" y1="121.67" x2="1267.00" y2="121.67" stroke="#222" stroke-width="1.3" />
<line x1="992.50" y1="110.41" x2="995.10" y2="110.41" stroke="#222" stroke-width="1.3" />
<line x1="1269.60" y1="110.41" x2="1267.00" y2="110.41" stroke="#222" stroke-width="1.3" />
<line x1="992.50" y1="99.15" x2="997.00" y2="99.15" stroke="#222" stroke-width="1.3" />
<line x1="1269.60" y1="99.15" x2="1265.10" y2="99.15" stroke="#222" stroke-width="1.3" />
<line x1="992.50" y1="87.89" x2="995.10" y2="87.89" stroke="#222" stroke-width="1.3" />
<line x1="1269.60" y1="87.89" x2="1267.00" y2="87.89" stroke="#222" stroke-width="1.3" />
<line x1="992.50" y1="76.63" x2="995.10" y2="76.63" stroke="#222" stroke-width="1.3" />
<line x1="1269.60" y1="76.63" x2="1267.00" y2="76.63" stroke="#222" stroke-width="1.3" />
<line x1="992.50" y1="65.37" x2="995.10" y2="65.37" stroke="#222" stroke-width="1.3" />
<line x1="1269.60" y1="65.37" x2="1267.00" y2="65.37" stroke="#222" stroke-width="1.3" />
<line x1="992.50" y1="54.12" x2="997.00" y2="54.12" stroke="#222" stroke-width="1.3" />
<line x1="1269.60" y1="54.12" x2="1265.10" y2="54.12" stroke="#222" stroke-width="1.3" />
<line x1="992.50" y1="42.86" x2="995.10" y2="42.86" stroke="#222" stroke-width="1.3" />
<line x1="1269.60" y1="42.86" x2="1267.00" y2="42.86" stroke="#222" stroke-width="1.3" />
<line x1="992.50" y1="31.60" x2="995.10" y2="31.60" stroke="#222" stroke-width="1.3" />
<line x1="1269.60" y1="31.60" x2="1267.00" y2="31.60" stroke="#222" stroke-width="1.3" />
<text x="986.30" y="60.02" font-family="Liberation Sans" font-size="16.5" font-weight="normal" font-style="normal" text-anchor="end" fill="#222" textLength="21.5" lengthAdjust="spacingAndGlyphs" >20</text>
<text x="986.30" y="105.05" font-family="Liberation Sans" font-size="16.5" font-weight="normal" font-style="normal" text-anchor="end" fill="#222" textLength="10.5" lengthAdjust="spacingAndGlyphs" >0</text>
<text x="986.30" y="150.08" font-family="Liberation Sans" font-size="16.5" font-weight="normal" font-style="normal" text-anchor="end" fill="#222" textLength="33.5" lengthAdjust="spacingAndGlyphs" >−20</text>
<text x="992.50" y="185.80" font-family="Liberation Sans" font-size="17" font-weight="normal" font-style="normal" text-anchor="middle" fill="#222" textLength="10.1" lengthAdjust="spacingAndGlyphs" >0</text>
<text x="1047.92" y="185.80" font-family="Liberation Sans" font-size="17" font-weight="normal" font-style="normal" text-anchor="middle" fill="#222" textLength="40.4" lengthAdjust="spacingAndGlyphs" >1000</text>
<text x="1103.34" y="185.80" font-family="Liberation Sans" font-size="17" font-weight="normal" font-style="normal" text-anchor="middle" fill="#222" textLength="40.4" lengthAdjust="spacingAndGlyphs" >2000</text>
<text x="1158.76" y="185.80" font-family="Liberation Sans" font-size="17" font-weight="normal" font-style="normal" text-anchor="middle" fill="#222" textLength="40.4" lengthAdjust="spacingAndGlyphs" >3000</text>
<text x="1214.18" y="185.80" font-family="Liberation Sans" font-size="17" font-weight="normal" font-style="normal" text-anchor="middle" fill="#222" textLength="40.4" lengthAdjust="spacingAndGlyphs" >4000</text>
<text x="1269.60" y="185.80" font-family="Liberation Sans" font-size="17" font-weight="normal" font-style="normal" text-anchor="middle" fill="#222" textLength="40.4" lengthAdjust="spacingAndGlyphs" >5000</text>
<text x="1126.70" y="208.20" font-family="Liberation Sans" font-size="19.5" font-weight="bold" font-style="normal" text-anchor="middle" fill="#000" textLength="83" lengthAdjust="spacingAndGlyphs" >time (fs)</text>
<g transform="translate(939.1,84.5) rotate(-90)">
<text x="1.6" y="-8.2" font-family="Liberation Sans" font-weight="bold" font-size="20.5" text-anchor="middle" textLength="104" lengthAdjust="spacingAndGlyphs">&lt;J(t)·J(0)&gt;</text>
<text x="0" y="18.8" font-family="Liberation Sans" font-weight="bold" font-size="20.5" text-anchor="middle" textLength="107" lengthAdjust="spacingAndGlyphs">&lt;J(0)·J(0)&gt;</text>
<line x1="-54" y1="0" x2="58" y2="0" stroke="#2a1a10" stroke-width="2"/>
<text x="-69.8" y="3.6" font-family="Liberation Sans" font-weight="bold" font-size="20" text-anchor="middle" textLength="22" lengthAdjust="spacingAndGlyphs">20</text>
</g>
<text x="1067.50" y="61.40" font-family="Liberation Sans" font-size="17" font-weight="bold" font-style="normal" text-anchor="start" fill="#34a84c" textLength="275.5" lengthAdjust="spacingAndGlyphs" >Running average of integration</text>
<text x="1132.30" y="143.90" font-family="Liberation Sans" font-size="17" font-weight="bold" font-style="normal" text-anchor="start" fill="#ee9d1c" textLength="207.5" lengthAdjust="spacingAndGlyphs" >Raw data of integration</text>
<text x="949.60" y="164.00" font-family="Liberation Sans" font-size="17.5" font-weight="bold" font-style="normal" text-anchor="start" fill="#1f72bd" textLength="204.5" lengthAdjust="spacingAndGlyphs" >Normalized correlation</text>
<defs><marker id="ah" markerWidth="8" markerHeight="8" refX="6" refY="4" orient="auto" markerUnits="userSpaceOnUse"><path d="M0,0 L8,4 L0,8 z" fill="context-stroke"/></marker></defs>
<path d="M1168,64 L1150,88" stroke="#1f9a3c" stroke-width="1.8" fill="none"/><polygon points="1148.5,90 1149.5,82 1155,86" fill="#1f9a3c"/>
<path d="M1185,131.5 L1185,128 L1160,120" stroke="#ee9d1c" stroke-width="1.8" fill="none"/><polygon points="1156.4,119 1163.6,117.6 1161.6,124" fill="#ee9d1c"/>
<line x1="992.5" y1="31.6" x2="992.5" y2="166.7" stroke="#222" stroke-width="1.6"/><line x1="1269.6" y1="31.6" x2="1269.6" y2="166.7" stroke="#222" stroke-width="1.6"/>
<line x1="1314.7" y1="13.0" x2="1314.7" y2="414.8" stroke="#000" stroke-width="2"/>
<path d="M1037,157 L1037,134" stroke="#1f72bd" stroke-width="1.6" fill="none"/><polygon points="1037,130.3 1033.6,137 1040.4,137" fill="#1f72bd"/>
<text x="654.00" y="35.50" font-family="Liberation Serif" font-size="47" font-weight="bold" font-style="normal" text-anchor="start" fill="#000" >b</text>
<clipPath id="cp101"><rect x="100.9" y="506.8" width="535.3000000000001" height="355.2"/></clipPath>
<rect x="101.9" y="506.3" width="534.3000000000001" height="355.7" fill="none" stroke="#000" stroke-width="2"/>
<g clip-path="url(#cp101)">
<polyline points="107.24,769.52 128.62,796.55 155.33,810.78 208.76,824.53 262.19,831.65 315.62,835.44 369.05,839.24 422.48,841.84 475.91,843.98 529.34,845.64 582.77,847.06 636.20,848.25" fill="none" stroke="#a0703a" stroke-width="2.0" stroke-linejoin="round" />
</g>
<g clip-path="url(#cp101)">
<polyline points="128.62,269.17 155.33,504.88 208.76,657.35 262.19,713.55 315.62,743.43 369.05,764.78 422.48,778.29 475.91,787.54 529.34,795.13 582.77,800.82 636.20,805.33" fill="none" stroke="#f7901e" stroke-width="2.0" stroke-linejoin="round" />
</g>
<g clip-path="url(#cp101)">
<polyline points="128.62,437.53 155.33,618.70 208.76,727.55 262.19,769.04 315.62,790.62 369.05,804.85 422.48,814.34 475.91,820.74 529.34,826.43 582.77,829.99 636.20,833.31" fill="none" stroke="#e8141c" stroke-width="2.0" stroke-linejoin="round" />
</g>
<g clip-path="url(#cp101)">
<polyline points="107.24,539.74 128.62,727.55 155.33,777.34 208.76,811.49 262.19,825.48 315.62,833.78 369.05,839.71 422.48,843.03 475.91,845.64 529.34,847.53 582.77,848.72 636.20,849.91" fill="none" stroke="#000" stroke-width="2.0" stroke-linejoin="round" />
</g>
<g clip-path="url(#cp101)">
<polyline points="107.24,516.02 128.62,729.44 155.33,780.90 208.76,814.10 262.19,828.09 315.62,835.44 369.05,841.13 422.48,844.45 475.91,847.06 529.34,848.96 582.77,850.14 636.20,851.09" fill="none" stroke="#1515e6" stroke-width="2.0" stroke-linejoin="round" />
</g>
<line x1="91.40" y1="862.00" x2="101.90" y2="862.00" stroke="#000" stroke-width="2" />
<line x1="96.40" y1="850.14" x2="101.90" y2="850.14" stroke="#000" stroke-width="2" />
<line x1="96.40" y1="838.29" x2="101.90" y2="838.29" stroke="#000" stroke-width="2" />
<line x1="96.40" y1="826.43" x2="101.90" y2="826.43" stroke="#000" stroke-width="2" />
<line x1="96.40" y1="814.57" x2="101.90" y2="814.57" stroke="#000" stroke-width="2" />
<line x1="96.40" y1="802.72" x2="101.90" y2="802.72" stroke="#000" stroke-width="2" />
<line x1="96.40" y1="790.86" x2="101.90" y2="790.86" stroke="#000" stroke-width="2" />
<line x1="96.40" y1="779.00" x2="101.90" y2="779.00" stroke="#000" stroke-width="2" />
<line x1="96.40" y1="767.15" x2="101.90" y2="767.15" stroke="#000" stroke-width="2" />
<line x1="96.40" y1="755.29" x2="101.90" y2="755.29" stroke="#000" stroke-width="2" />
<line x1="91.40" y1="743.43" x2="101.90" y2="743.43" stroke="#000" stroke-width="2" />
<line x1="96.40" y1="731.58" x2="101.90" y2="731.58" stroke="#000" stroke-width="2" />
<line x1="96.40" y1="719.72" x2="101.90" y2="719.72" stroke="#000" stroke-width="2" />
<line x1="96.40" y1="707.86" x2="101.90" y2="707.86" stroke="#000" stroke-width="2" />
<line x1="96.40" y1="696.01" x2="101.90" y2="696.01" stroke="#000" stroke-width="2" />
<line x1="96.40" y1="684.15" x2="101.90" y2="684.15" stroke="#000" stroke-width="2" />
<line x1="96.40" y1="672.29" x2="101.90" y2="672.29" stroke="#000" stroke-width="2" />
<line x1="96.40" y1="660.44" x2="101.90" y2="660.44" stroke="#000" stroke-width="2" />
<line x1="96.40" y1="648.58" x2="101.90" y2="648.58" stroke="#000" stroke-width="2" />
<line x1="96.40" y1="636.72" x2="101.90" y2="636.72" stroke="#000" stroke-width="2" />
<line x1="91.40" y1="624.87" x2="101.90" y2="624.87" stroke="#000" stroke-width="2" />
<line x1="96.40" y1="613.01" x2="101.90" y2="613.01" stroke="#000" stroke-width="2" />
<line x1="96.40" y1="601.15" x2="101.90" y2="601.15" stroke="#000" stroke-width="2" />
<line x1="96.40" y1="589.30" x2="101.90" y2="589.30" stroke="#000" stroke-width="2" />
<line x1="96.40" y1="577.44" x2="101.90" y2="577.44" stroke="#000" stroke-width="2" />
<line x1="96.40" y1="565.58" x2="101.90" y2="565.58" stroke="#000" stroke-width="2" />
<line x1="96.40" y1="553.73" x2="101.90" y2="553.73" stroke="#000" stroke-width="2" />
<line x1="96.40" y1="541.87" x2="101.90" y2="541.87" stroke="#000" stroke-width="2" />
<line x1="96.40" y1="530.01" x2="101.90" y2="530.01" stroke="#000" stroke-width="2" />
<line x1="96.40" y1="518.16" x2="101.90" y2="518.16" stroke="#000" stroke-width="2" />
<line x1="91.40" y1="506.30" x2="101.90" y2="506.30" stroke="#000" stroke-width="2" />
<line x1="101.90" y1="862.00" x2="101.90" y2="872.50" stroke="#000" stroke-width="2" />
<line x1="128.62" y1="862.00" x2="128.62" y2="867.50" stroke="#000" stroke-width="2" />
<line x1="155.33" y1="862.00" x2="155.33" y2="867.50" stroke="#000" stroke-width="2" />
<line x1="182.05" y1="862.00" x2="182.05" y2="867.50" stroke="#000" stroke-width="2" />
<line x1="208.76" y1="862.00" x2="208.76" y2="867.50" stroke="#000" stroke-width="2" />
<line x1="235.48" y1="862.00" x2="235.48" y2="867.50" stroke="#000" stroke-width="2" />
<line x1="262.19" y1="862.00" x2="262.19" y2="867.50" stroke="#000" stroke-width="2" />
<line x1="288.91" y1="862.00" x2="288.91" y2="867.50" stroke="#000" stroke-width="2" />
<line x1="315.62" y1="862.00" x2="315.62" y2="867.50" stroke="#000" stroke-width="2" />
<line x1="342.34" y1="862.00" x2="342.34" y2="867.50" stroke="#000" stroke-width="2" />
<line x1="369.05" y1="862.00" x2="369.05" y2="872.50" stroke="#000" stroke-width="2" />
<line x1="395.77" y1="862.00" x2="395.77" y2="867.50" stroke="#000" stroke-width="2" />
<line x1="422.48" y1="862.00" x2="422.48" y2="867.50" stroke="#000" stroke-width="2" />
<line x1="449.20" y1="862.00" x2="449.20" y2="867.50" stroke="#000" stroke-width="2" />
<line x1="475.91" y1="862.00" x2="475.91" y2="867.50" stroke="#000" stroke-width="2" />
<line x1="502.62" y1="862.00" x2="502.62" y2="867.50" stroke="#000" stroke-width="2" />
<line x1="529.34" y1="862.00" x2="529.34" y2="867.50" stroke="#000" stroke-width="2" />
<line x1="556.06" y1="862.00" x2="556.06" y2="867.50" stroke="#000" stroke-width="2" />
<line x1="582.77" y1="862.00" x2="582.77" y2="867.50" stroke="#000" stroke-width="2" />
<line x1="609.49" y1="862.00" x2="609.49" y2="867.50" stroke="#000" stroke-width="2" />
<line x1="636.20" y1="862.00" x2="636.20" y2="872.50" stroke="#000" stroke-width="2" />
<text x="89.60" y="871.60" font-family="Liberation Sans" font-size="27.5" font-weight="normal" font-style="normal" text-anchor="end" fill="#000" textLength="14.6" lengthAdjust="spacingAndGlyphs" >0</text>
<text x="89.60" y="753.03" font-family="Liberation Sans" font-size="27.5" font-weight="normal" font-style="normal" text-anchor="end" fill="#000" textLength="29.2" lengthAdjust="spacingAndGlyphs" >50</text>
<text x="89.60" y="634.47" font-family="Liberation Sans" font-size="27.5" font-weight="normal" font-style="normal" text-anchor="end" fill="#000" textLength="43.8" lengthAdjust="spacingAndGlyphs" >100</text>
<text x="89.60" y="515.90" font-family="Liberation Sans" font-size="27.5" font-weight="normal" font-style="normal" text-anchor="end" fill="#000" textLength="43.8" lengthAdjust="spacingAndGlyphs" >150</text>
<text x="101.90" y="897.80" font-family="Liberation Sans" font-size="27.5" font-weight="normal" font-style="normal" text-anchor="middle" fill="#000" textLength="36.6" lengthAdjust="spacingAndGlyphs" >0.0</text>
<text x="369.05" y="897.80" font-family="Liberation Sans" font-size="27.5" font-weight="normal" font-style="normal" text-anchor="middle" fill="#000" textLength="36.6" lengthAdjust="spacingAndGlyphs" >0.5</text>
<text x="636.20" y="897.80" font-family="Liberation Sans" font-size="27.5" font-weight="normal" font-style="normal" text-anchor="middle" fill="#000" textLength="36.6" lengthAdjust="spacingAndGlyphs" >1.0</text>
<text x="369.60" y="941.20" font-family="Liberation Sans" font-size="30" font-weight="normal" font-style="normal" text-anchor="middle" fill="#000" textLength="250" lengthAdjust="spacingAndGlyphs" >Volume fraction (%)</text>
<text transform="translate(30.5,684.8) rotate(-90)" font-family="Liberation Sans" font-size="29" text-anchor="middle" textLength="190" lengthAdjust="spacingAndGlyphs">κ<tspan font-size="21" dy="7">ph-v</tspan><tspan dy="-7"> (Wm</tspan><tspan font-size="19" dy="-11">-1</tspan><tspan dy="11">K</tspan><tspan font-size="19" dy="-11">-1</tspan><tspan dy="11">)</tspan></text>
<line x1="426.90" y1="528.40" x2="465.90" y2="528.40" stroke="#1515e6" stroke-width="2.2" />
<text x="487.60" y="536.60" font-family="Liberation Sans" font-size="23" font-weight="normal" font-style="normal" text-anchor="start" fill="#000" transform="translate(487.6,0) scale(0.92,1) translate(-487.6,0)">DFT</text>
<line x1="426.90" y1="562.30" x2="465.90" y2="562.30" stroke="#e8141c" stroke-width="2.2" />
<text x="487.60" y="570.50" font-family="Liberation Sans" font-size="23" font-weight="normal" font-style="normal" text-anchor="start" fill="#000" transform="translate(487.6,0) scale(0.92,1) translate(-487.6,0)">SW</text>
<line x1="426.90" y1="596.20" x2="465.90" y2="596.20" stroke="#a0703a" stroke-width="2.2" />
<text x="487.60" y="604.40" font-family="Liberation Sans" font-size="23" font-weight="normal" font-style="normal" text-anchor="start" fill="#000" transform="translate(487.6,0) scale(0.92,1) translate(-487.6,0)">Tersoff</text>
<line x1="426.90" y1="630.10" x2="465.90" y2="630.10" stroke="#f7901e" stroke-width="2.2" />
<text x="487.60" y="638.30" font-family="Liberation Sans" font-size="23" font-weight="normal" font-style="normal" text-anchor="start" fill="#000" transform="translate(487.6,0) scale(0.92,1) translate(-487.6,0)">Tersoff_mod</text>
<line x1="426.90" y1="664.00" x2="465.90" y2="664.00" stroke="#000" stroke-width="2.2" />
<text x="487.60" y="672.20" font-family="Liberation Sans" font-size="23" font-weight="normal" font-style="normal" text-anchor="start" fill="#000" transform="translate(487.6,0) scale(0.92,1) translate(-487.6,0)">GAP</text>
<text x="-1.20" y="515.60" font-family="Liberation Serif" font-size="47" font-weight="bold" font-style="normal" text-anchor="start" fill="#000" >c</text>
<clipPath id="cp791"><rect x="790.1" y="503.9" width="538.3000000000001" height="356.0"/></clipPath>
<rect x="791.1" y="503.4" width="537.3000000000001" height="356.5" fill="none" stroke="#000" stroke-width="2"/>
<g clip-path="url(#cp791)">
<polyline points="791.10,742.02 796.47,808.09 817.97,818.07 844.83,824.01 898.56,831.62 952.29,835.90 1006.02,838.99 1059.75,840.89 1113.48,842.79 1167.21,844.21 1220.94,845.40 1274.67,846.35 1328.40,847.30" fill="none" stroke="#a0703a" stroke-width="2.0" stroke-linejoin="round" />
</g>
<g clip-path="url(#cp791)">
<polyline points="796.47,241.97 817.97,526.22 844.83,622.23 898.56,701.38 952.29,737.26 1006.02,758.89 1059.75,773.39 1113.48,784.32 1167.21,791.69 1220.94,797.87 1274.67,802.86 1328.40,806.90" fill="none" stroke="#f7901e" stroke-width="2.0" stroke-linejoin="round" />
</g>
<g clip-path="url(#cp791)">
<polyline points="796.47,265.73 817.97,530.02 844.83,651.70 898.56,737.26 952.29,772.68 1006.02,792.40 1059.75,804.29 1113.48,813.32 1167.21,819.26 1220.94,824.01 1274.67,827.58 1328.40,830.43" fill="none" stroke="#e8141c" stroke-width="2.0" stroke-linejoin="round" />
</g>
<g clip-path="url(#cp791)">
<polyline points="791.10,538.34 796.47,694.72 817.97,764.12 844.83,792.40 898.56,816.17 952.29,827.34 1006.02,834.71 1059.75,838.99 1113.48,842.31 1167.21,844.69 1220.94,846.59 1274.67,848.02 1328.40,848.97" fill="none" stroke="#000" stroke-width="2.0" stroke-linejoin="round" />
</g>
<g clip-path="url(#cp791)">
<polyline points="791.10,538.34 796.47,695.20 817.97,766.02 844.83,795.02 898.56,818.55 952.29,829.00 1006.02,835.90 1059.75,840.17 1113.48,843.26 1167.21,845.64 1220.94,847.30 1274.67,848.49 1328.40,849.44" fill="none" stroke="#1515e6" stroke-width="2.0" stroke-linejoin="round" />
</g>
<line x1="780.60" y1="859.90" x2="791.10" y2="859.90" stroke="#000" stroke-width="2" />
<line x1="780.60" y1="741.07" x2="791.10" y2="741.07" stroke="#000" stroke-width="2" />
<line x1="780.60" y1="622.23" x2="791.10" y2="622.23" stroke="#000" stroke-width="2" />
<line x1="780.60" y1="503.40" x2="791.10" y2="503.40" stroke="#000" stroke-width="2" />
<line x1="1318.40" y1="788.60" x2="1328.40" y2="788.60" stroke="#000" stroke-width="2" />
<line x1="1318.40" y1="717.30" x2="1328.40" y2="717.30" stroke="#000" stroke-width="2" />
<line x1="1318.40" y1="646.00" x2="1328.40" y2="646.00" stroke="#000" stroke-width="2" />
<line x1="1318.40" y1="574.70" x2="1328.40" y2="574.70" stroke="#000" stroke-width="2" />
<line x1="791.10" y1="859.90" x2="791.10" y2="870.40" stroke="#000" stroke-width="2" />
<line x1="817.97" y1="859.90" x2="817.97" y2="865.40" stroke="#000" stroke-width="2" />
<line x1="844.83" y1="859.90" x2="844.83" y2="865.40" stroke="#000" stroke-width="2" />
<line x1="871.70" y1="859.90" x2="871.70" y2="865.40" stroke="#000" stroke-width="2" />
<line x1="898.56" y1="859.90" x2="898.56" y2="865.40" stroke="#000" stroke-width="2" />
<line x1="925.43" y1="859.90" x2="925.43" y2="865.40" stroke="#000" stroke-width="2" />
<line x1="952.29" y1="859.90" x2="952.29" y2="865.40" stroke="#000" stroke-width="2" />
<line x1="979.16" y1="859.90" x2="979.16" y2="865.40" stroke="#000" stroke-width="2" />
<line x1="1006.02" y1="859.90" x2="1006.02" y2="865.40" stroke="#000" stroke-width="2" />
<line x1="1032.88" y1="859.90" x2="1032.88" y2="865.40" stroke="#000" stroke-width="2" />
<line x1="1059.75" y1="859.90" x2="1059.75" y2="870.40" stroke="#000" stroke-width="2" />
<line x1="1086.62" y1="859.90" x2="1086.62" y2="865.40" stroke="#000" stroke-width="2" />
<line x1="1113.48" y1="859.90" x2="1113.48" y2="865.40" stroke="#000" stroke-width="2" />
<line x1="1140.35" y1="859.90" x2="1140.35" y2="865.40" stroke="#000" stroke-width="2" />
<line x1="1167.21" y1="859.90" x2="1167.21" y2="865.40" stroke="#000" stroke-width="2" />
<line x1="1194.08" y1="859.90" x2="1194.08" y2="865.40" stroke="#000" stroke-width="2" />
<line x1="1220.94" y1="859.90" x2="1220.94" y2="865.40" stroke="#000" stroke-width="2" />
<line x1="1247.81" y1="859.90" x2="1247.81" y2="865.40" stroke="#000" stroke-width="2" />
<line x1="1274.67" y1="859.90" x2="1274.67" y2="865.40" stroke="#000" stroke-width="2" />
<line x1="1301.54" y1="859.90" x2="1301.54" y2="865.40" stroke="#000" stroke-width="2" />
<line x1="1328.40" y1="859.90" x2="1328.40" y2="870.40" stroke="#000" stroke-width="2" />
<text x="778.60" y="869.80" font-family="Liberation Sans" font-size="27.5" font-weight="normal" font-style="normal" text-anchor="end" fill="#000" textLength="14.6" lengthAdjust="spacingAndGlyphs" >0</text>
<text x="778.60" y="750.97" font-family="Liberation Sans" font-size="27.5" font-weight="normal" font-style="normal" text-anchor="end" fill="#000" textLength="29.2" lengthAdjust="spacingAndGlyphs" >50</text>
<text x="778.60" y="632.13" font-family="Liberation Sans" font-size="27.5" font-weight="normal" font-style="normal" text-anchor="end" fill="#000" textLength="43.8" lengthAdjust="spacingAndGlyphs" >100</text>
<text x="778.60" y="513.30" font-family="Liberation Sans" font-size="27.5" font-weight="normal" font-style="normal" text-anchor="end" fill="#000" textLength="43.8" lengthAdjust="spacingAndGlyphs" >150</text>
<text x="791.10" y="896.40" font-family="Liberation Sans" font-size="27.5" font-weight="normal" font-style="normal" text-anchor="middle" fill="#000" textLength="36.6" lengthAdjust="spacingAndGlyphs" >0.0</text>
<text x="1059.75" y="896.40" font-family="Liberation Sans" font-size="27.5" font-weight="normal" font-style="normal" text-anchor="middle" fill="#000" textLength="36.6" lengthAdjust="spacingAndGlyphs" >0.5</text>
<text x="1328.40" y="896.40" font-family="Liberation Sans" font-size="27.5" font-weight="normal" font-style="normal" text-anchor="middle" fill="#000" textLength="36.6" lengthAdjust="spacingAndGlyphs" >1.0</text>
<text x="1059.90" y="941.20" font-family="Liberation Sans" font-size="30" font-weight="normal" font-style="normal" text-anchor="middle" fill="#000" textLength="250.5" lengthAdjust="spacingAndGlyphs" >Volume fraction (%)</text>
<text transform="translate(713.6,683) rotate(-90)" font-family="Liberation Sans" font-size="30" text-anchor="middle" textLength="398" lengthAdjust="spacingAndGlyphs">Thermal conductivity (Wm<tspan font-size="20" dy="-11">-1</tspan><tspan dy="11">K</tspan><tspan font-size="20" dy="-11">-1</tspan><tspan dy="11">)</tspan></text>
<line x1="1127.80" y1="523.90" x2="1167.30" y2="523.90" stroke="#1515e6" stroke-width="2.2" />
<text x="1189.20" y="531.60" font-family="Liberation Sans" font-size="22" font-weight="normal" font-style="normal" text-anchor="start" fill="#000" transform="translate(1189.2,0) scale(0.955,1) translate(-1189.2,0)">DFT</text>
<line x1="1127.80" y1="561.45" x2="1167.30" y2="561.45" stroke="#e8141c" stroke-width="2.2" />
<text x="1189.20" y="569.15" font-family="Liberation Sans" font-size="22" font-weight="normal" font-style="normal" text-anchor="start" fill="#000" transform="translate(1189.2,0) scale(0.955,1) translate(-1189.2,0)">SW</text>
<line x1="1127.80" y1="599.00" x2="1167.30" y2="599.00" stroke="#a0703a" stroke-width="2.2" />
<text x="1189.20" y="606.70" font-family="Liberation Sans" font-size="22" font-weight="normal" font-style="normal" text-anchor="start" fill="#000" transform="translate(1189.2,0) scale(0.955,1) translate(-1189.2,0)">Tersoff</text>
<line x1="1127.80" y1="636.55" x2="1167.30" y2="636.55" stroke="#f7901e" stroke-width="2.2" />
<text x="1189.20" y="644.25" font-family="Liberation Sans" font-size="22" font-weight="normal" font-style="normal" text-anchor="start" fill="#000" transform="translate(1189.2,0) scale(0.955,1) translate(-1189.2,0)">Tersoff_mod</text>
<line x1="1127.80" y1="674.10" x2="1167.30" y2="674.10" stroke="#000" stroke-width="2.2" />
<text x="1189.20" y="681.80" font-family="Liberation Sans" font-size="22" font-weight="normal" font-style="normal" text-anchor="start" fill="#000" transform="translate(1189.2,0) scale(0.955,1) translate(-1189.2,0)">GAP</text>
<text x="653.00" y="516.00" font-family="Liberation Serif" font-size="47" font-weight="bold" font-style="normal" text-anchor="start" fill="#000" >d</text>
</svg></body></html>
